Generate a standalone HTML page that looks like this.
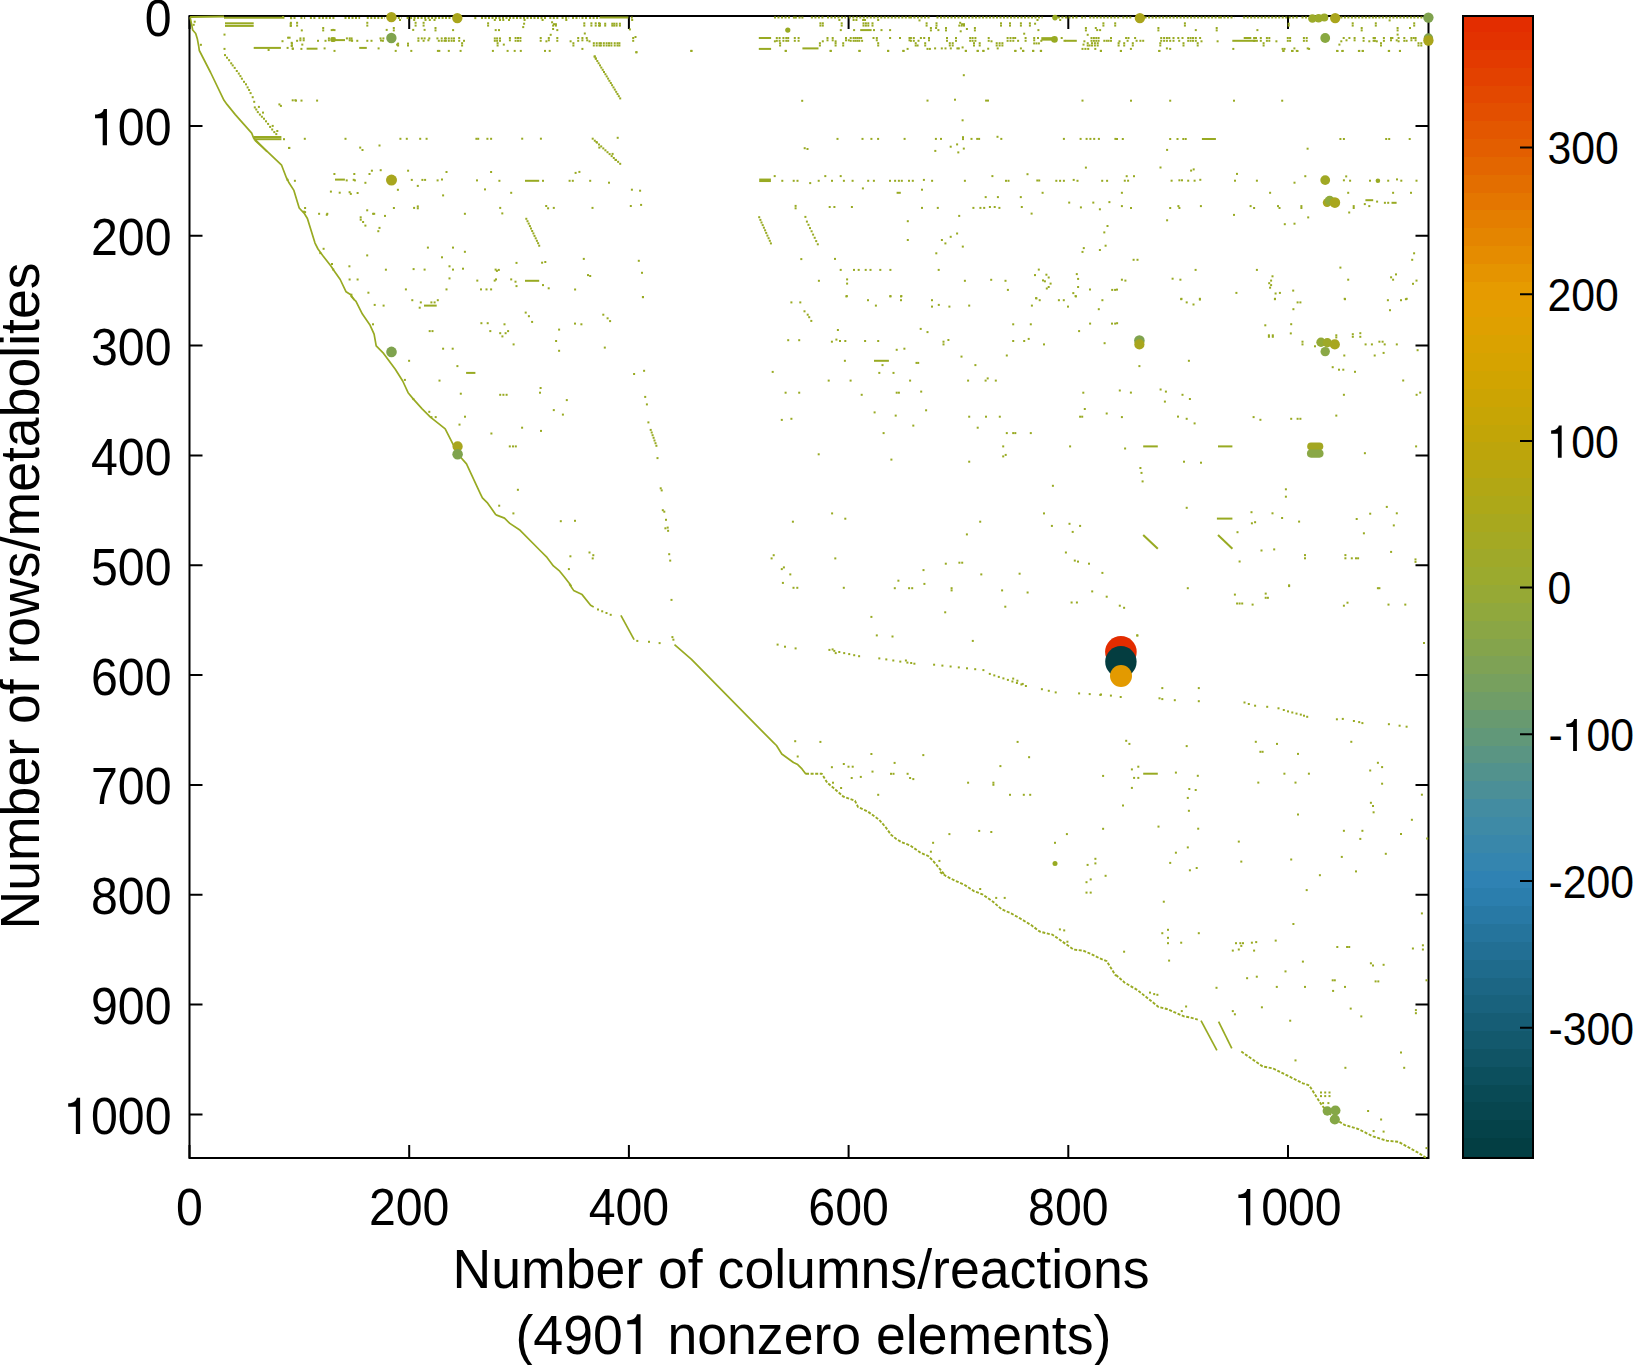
<!DOCTYPE html>
<html><head><meta charset="utf-8"><title>Sparse matrix</title>
<style>
html,body{margin:0;padding:0;background:#fff;width:1635px;height:1365px;overflow:hidden}
svg{position:absolute;left:0;top:0;font-family:"Liberation Sans",sans-serif}
</style></head><body>
<svg width="1635" height="1365" viewBox="0 0 1635 1365">
<defs><linearGradient id="pal" x1="0" y1="0" x2="0" y2="1"><stop offset="0.0000" stop-color="#e32c00"/><stop offset="0.0123" stop-color="#e32e00"/><stop offset="0.1173" stop-color="#e35f00"/><stop offset="0.1786" stop-color="#e47e00"/><stop offset="0.2443" stop-color="#e69d00"/><stop offset="0.3100" stop-color="#d4a400"/><stop offset="0.3722" stop-color="#c0a508"/><stop offset="0.4370" stop-color="#aaa81b"/><stop offset="0.5009" stop-color="#98aa32"/><stop offset="0.5639" stop-color="#80a352"/><stop offset="0.6296" stop-color="#629878"/><stop offset="0.6953" stop-color="#428ca2"/><stop offset="0.7583" stop-color="#2e82b4"/><stop offset="0.8222" stop-color="#216e92"/><stop offset="0.8862" stop-color="#155c72"/><stop offset="0.9492" stop-color="#084852"/><stop offset="1.0000" stop-color="#023c40"/></linearGradient></defs>
<rect x="1463" y="16" width="70" height="16" fill="#e32d00" shape-rendering="crispEdges"/><rect x="1463" y="32" width="70" height="18" fill="#e33200" shape-rendering="crispEdges"/><rect x="1463" y="50" width="70" height="18" fill="#e33a00" shape-rendering="crispEdges"/><rect x="1463" y="68" width="70" height="18" fill="#e34100" shape-rendering="crispEdges"/><rect x="1463" y="86" width="70" height="17" fill="#e34800" shape-rendering="crispEdges"/><rect x="1463" y="103" width="70" height="18" fill="#e34f00" shape-rendering="crispEdges"/><rect x="1463" y="121" width="70" height="18" fill="#e35700" shape-rendering="crispEdges"/><rect x="1463" y="139" width="70" height="18" fill="#e35e00" shape-rendering="crispEdges"/><rect x="1463" y="157" width="70" height="18" fill="#e36600" shape-rendering="crispEdges"/><rect x="1463" y="175" width="70" height="18" fill="#e36e00" shape-rendering="crispEdges"/><rect x="1463" y="193" width="70" height="17" fill="#e47600" shape-rendering="crispEdges"/><rect x="1463" y="210" width="70" height="18" fill="#e47e00" shape-rendering="crispEdges"/><rect x="1463" y="228" width="70" height="18" fill="#e48500" shape-rendering="crispEdges"/><rect x="1463" y="246" width="70" height="18" fill="#e58c00" shape-rendering="crispEdges"/><rect x="1463" y="264" width="70" height="18" fill="#e59400" shape-rendering="crispEdges"/><rect x="1463" y="282" width="70" height="18" fill="#e69b00" shape-rendering="crispEdges"/><rect x="1463" y="300" width="70" height="17" fill="#e39e00" shape-rendering="crispEdges"/><rect x="1463" y="317" width="70" height="18" fill="#dfa000" shape-rendering="crispEdges"/><rect x="1463" y="335" width="70" height="18" fill="#daa200" shape-rendering="crispEdges"/><rect x="1463" y="353" width="70" height="18" fill="#d6a300" shape-rendering="crispEdges"/><rect x="1463" y="371" width="70" height="18" fill="#d1a401" shape-rendering="crispEdges"/><rect x="1463" y="389" width="70" height="18" fill="#cca403" shape-rendering="crispEdges"/><rect x="1463" y="407" width="70" height="18" fill="#c7a505" shape-rendering="crispEdges"/><rect x="1463" y="425" width="70" height="17" fill="#c2a507" shape-rendering="crispEdges"/><rect x="1463" y="442" width="70" height="18" fill="#bda50b" shape-rendering="crispEdges"/><rect x="1463" y="460" width="70" height="18" fill="#b8a60f" shape-rendering="crispEdges"/><rect x="1463" y="478" width="70" height="18" fill="#b2a714" shape-rendering="crispEdges"/><rect x="1463" y="496" width="70" height="18" fill="#ada818" shape-rendering="crispEdges"/><rect x="1463" y="514" width="70" height="18" fill="#a8a81e" shape-rendering="crispEdges"/><rect x="1463" y="532" width="70" height="17" fill="#a4a923" shape-rendering="crispEdges"/><rect x="1463" y="549" width="70" height="18" fill="#9fa929" shape-rendering="crispEdges"/><rect x="1463" y="567" width="70" height="18" fill="#9baa2e" shape-rendering="crispEdges"/><rect x="1463" y="585" width="70" height="18" fill="#96a935" shape-rendering="crispEdges"/><rect x="1463" y="603" width="70" height="18" fill="#90a83d" shape-rendering="crispEdges"/><rect x="1463" y="621" width="70" height="18" fill="#8aa645" shape-rendering="crispEdges"/><rect x="1463" y="639" width="70" height="17" fill="#84a44c" shape-rendering="crispEdges"/><rect x="1463" y="656" width="70" height="18" fill="#7ea255" shape-rendering="crispEdges"/><rect x="1463" y="674" width="70" height="18" fill="#77a05e" shape-rendering="crispEdges"/><rect x="1463" y="692" width="70" height="18" fill="#709d67" shape-rendering="crispEdges"/><rect x="1463" y="710" width="70" height="18" fill="#689a70" shape-rendering="crispEdges"/><rect x="1463" y="728" width="70" height="18" fill="#619879" shape-rendering="crispEdges"/><rect x="1463" y="746" width="70" height="17" fill="#5a9583" shape-rendering="crispEdges"/><rect x="1463" y="763" width="70" height="18" fill="#52928d" shape-rendering="crispEdges"/><rect x="1463" y="781" width="70" height="18" fill="#4b8f97" shape-rendering="crispEdges"/><rect x="1463" y="799" width="70" height="18" fill="#438ca1" shape-rendering="crispEdges"/><rect x="1463" y="817" width="70" height="18" fill="#3e8aa6" shape-rendering="crispEdges"/><rect x="1463" y="835" width="70" height="18" fill="#3987aa" shape-rendering="crispEdges"/><rect x="1463" y="853" width="70" height="18" fill="#3485af" shape-rendering="crispEdges"/><rect x="1463" y="871" width="70" height="17" fill="#2f82b3" shape-rendering="crispEdges"/><rect x="1463" y="888" width="70" height="18" fill="#2b7ead" shape-rendering="crispEdges"/><rect x="1463" y="906" width="70" height="18" fill="#2879a5" shape-rendering="crispEdges"/><rect x="1463" y="924" width="70" height="18" fill="#25749c" shape-rendering="crispEdges"/><rect x="1463" y="942" width="70" height="18" fill="#226f94" shape-rendering="crispEdges"/><rect x="1463" y="960" width="70" height="18" fill="#1f6b8c" shape-rendering="crispEdges"/><rect x="1463" y="978" width="70" height="17" fill="#1c6684" shape-rendering="crispEdges"/><rect x="1463" y="995" width="70" height="18" fill="#19627d" shape-rendering="crispEdges"/><rect x="1463" y="1013" width="70" height="18" fill="#165d75" shape-rendering="crispEdges"/><rect x="1463" y="1031" width="70" height="18" fill="#13596d" shape-rendering="crispEdges"/><rect x="1463" y="1049" width="70" height="18" fill="#105465" shape-rendering="crispEdges"/><rect x="1463" y="1067" width="70" height="18" fill="#0c4f5d" shape-rendering="crispEdges"/><rect x="1463" y="1085" width="70" height="17" fill="#094a55" shape-rendering="crispEdges"/><rect x="1463" y="1102" width="70" height="18" fill="#07464f" shape-rendering="crispEdges"/><rect x="1463" y="1120" width="70" height="18" fill="#054249" shape-rendering="crispEdges"/><rect x="1463" y="1138" width="70" height="18" fill="#033e43" shape-rendering="crispEdges"/><rect x="1463" y="1156" width="70" height="2" fill="#023c40" shape-rendering="crispEdges"/><rect x="1463" y="16" width="70" height="1142" fill="none" stroke="#000" stroke-width="2"/>
<path d="M1520 147.5H1533M1520 294.2H1533M1520 440.9H1533M1520 587.6H1533M1520 734.3H1533M1520 881.0H1533M1520 1027.7H1533" stroke="#000" stroke-width="2"/>
<rect x="189.5" y="16" width="1239" height="1142" fill="none" stroke="#000" stroke-width="2"/>
<path d="M189.5 16.0H202.5M1415.5 16.0H1428.5M189.5 125.9H202.5M1415.5 125.9H1428.5M189.5 235.7H202.5M1415.5 235.7H1428.5M189.5 345.6H202.5M1415.5 345.6H1428.5M189.5 455.4H202.5M1415.5 455.4H1428.5M189.5 565.2H202.5M1415.5 565.2H1428.5M189.5 675.1H202.5M1415.5 675.1H1428.5M189.5 785.0H202.5M1415.5 785.0H1428.5M189.5 894.8H202.5M1415.5 894.8H1428.5M189.5 1004.6H202.5M1415.5 1004.6H1428.5M189.5 1114.5H202.5M1415.5 1114.5H1428.5M189.5 1158V1145M189.5 16V29M409.2 1158V1145M409.2 16V29M628.9 1158V1145M628.9 16V29M848.6 1158V1145M848.6 16V29M1068.3 1158V1145M1068.3 16V29M1288.0 1158V1145M1288.0 16V29" stroke="#000" stroke-width="2"/>
<g fill="#98aa22"><path d="M190.1 17.1L191.6 24.3L192.7 30.0L195.7 33.5L197.3 38.7L198.8 46.9L199.3 50.5L210.6 72.5L224.0 100.3L227.0 104.4L235.3 114.6L243.5 123.9L251.7 133.1L253.7 138.2L267.1 151.6" stroke="#98aa22" stroke-width="1.7" fill="none" stroke-linejoin="round"/><path d="M190.1 16.9L224.0 16.6" stroke="#98aa22" stroke-width="2" fill="none"/><path d="M224.0 17.7L284.5 17.7" stroke="#98aa22" stroke-width="2" fill="none"/><path d="M225.0 23.3L253.7 23.3" stroke="#98aa22" stroke-width="2" fill="none"/><path d="M225.0 25.9L253.7 25.9" stroke="#98aa22" stroke-width="2" fill="none"/><path d="M253.7 47.9L280.9 47.9" stroke="#98aa22" stroke-width="2" fill="none"/><path d="M253.7 137.0L281.4 137.0" stroke="#98aa22" stroke-width="2" fill="none"/><path d="M253.7 139.2L281.4 139.2" stroke="#98aa22" stroke-width="2" fill="none"/><rect x="193.7" y="20.7" width="2" height="2"/><rect x="192.7" y="23.8" width="2" height="2"/><rect x="199.9" y="43.8" width="2" height="2"/><rect x="223.5" y="33.6" width="2" height="2"/><rect x="223.5" y="47.9" width="2" height="2"/><rect x="281.5" y="40.2" width="2" height="2"/><rect x="287.1" y="36.7" width="2" height="2"/><rect x="288.6" y="36.7" width="2" height="2"/><rect x="289.7" y="22.8" width="2" height="2"/><rect x="289.7" y="24.9" width="2" height="2"/><rect x="290.7" y="41.8" width="2" height="2"/><rect x="290.7" y="44.9" width="2" height="2"/><rect x="286.6" y="46.9" width="2" height="2"/><rect x="291.7" y="47.4" width="2" height="2"/><rect x="267.6" y="49.0" width="2" height="2"/><rect x="224.0" y="54.1" width="2" height="2"/><rect x="226.0" y="56.7" width="2" height="2"/><rect x="228.1" y="59.2" width="2" height="2"/><rect x="230.2" y="62.3" width="2" height="2"/><rect x="231.7" y="64.4" width="2" height="2"/><rect x="233.7" y="66.9" width="2" height="2"/><rect x="235.8" y="70.0" width="2" height="2"/><rect x="237.8" y="72.6" width="2" height="2"/><rect x="239.4" y="75.1" width="2" height="2"/><rect x="240.9" y="77.7" width="2" height="2"/><rect x="243.0" y="80.8" width="2" height="2"/><rect x="245.0" y="83.3" width="2" height="2"/><rect x="246.6" y="86.4" width="2" height="2"/><rect x="248.1" y="89.0" width="2" height="2"/><rect x="249.6" y="92.1" width="2" height="2"/><rect x="251.7" y="96.2" width="2" height="2"/><rect x="253.2" y="100.8" width="2" height="2"/><rect x="253.8" y="106.4" width="2" height="2"/><rect x="255.3" y="108.5" width="2" height="2"/><rect x="256.8" y="111.1" width="2" height="2"/><rect x="258.9" y="113.6" width="2" height="2"/><rect x="260.9" y="115.7" width="2" height="2"/><rect x="263.0" y="117.7" width="2" height="2"/><rect x="265.0" y="120.3" width="2" height="2"/><rect x="267.1" y="122.9" width="2" height="2"/><rect x="269.1" y="125.9" width="2" height="2"/><rect x="271.2" y="128.5" width="2" height="2"/><rect x="273.3" y="131.1" width="2" height="2"/><rect x="275.3" y="133.1" width="2" height="2"/><rect x="257.9" y="105.9" width="2" height="2"/><rect x="262.0" y="111.6" width="2" height="2"/><rect x="271.7" y="124.9" width="2" height="2"/><rect x="276.3" y="130.0" width="2" height="2"/><rect x="283.0" y="138.2" width="2" height="2"/><rect x="278.4" y="103.4" width="2" height="2"/><rect x="279.9" y="104.9" width="2" height="2"/><rect x="291.7" y="99.3" width="2" height="2"/><rect x="294.3" y="99.3" width="2" height="2"/><rect x="288.1" y="147.0" width="2" height="2"/><rect x="282.0" y="16.1" width="2" height="2"/><rect x="290.2" y="17.2" width="2" height="2"/><path d="M254.7 140.0L268.2 152.3L281.6 165.2L286.3 177.5L288.7 182.2L293.9 190.4L299.2 208.0L304.5 213.8L307.4 218.5L315.0 243.1L318.0 249.0L322.7 255.4L330.9 266.0L334.4 271.3L340.2 279.5L346.1 291.8L350.8 294.7L354.3 300.0" stroke="#98aa22" stroke-width="1.7" fill="none" stroke-linejoin="round"/><path d="M335.0 179.6L344.9 179.6" stroke="#98aa22" stroke-width="2" fill="none"/><rect x="288.3" y="146.9" width="2" height="2"/><rect x="359.2" y="146.6" width="2" height="2"/><rect x="361.5" y="149.0" width="2" height="2"/><rect x="378.5" y="144.5" width="2" height="2"/><rect x="333.4" y="173.0" width="2" height="2"/><rect x="353.3" y="173.0" width="2" height="2"/><rect x="368.5" y="173.0" width="2" height="2"/><rect x="370.9" y="169.7" width="2" height="2"/><rect x="379.7" y="169.2" width="2" height="2"/><rect x="293.9" y="179.8" width="2" height="2"/><rect x="364.4" y="181.8" width="2" height="2"/><rect x="396.9" y="188.8" width="2" height="2"/><rect x="329.9" y="190.6" width="2" height="2"/><rect x="338.7" y="191.7" width="2" height="2"/><rect x="348.6" y="191.2" width="2" height="2"/><rect x="349.8" y="192.9" width="2" height="2"/><rect x="356.6" y="192.0" width="2" height="2"/><rect x="304.1" y="207.0" width="2" height="2"/><rect x="304.1" y="211.1" width="2" height="2"/><rect x="318.1" y="212.8" width="2" height="2"/><rect x="326.3" y="212.8" width="2" height="2"/><rect x="325.8" y="213.8" width="2" height="2"/><rect x="366.2" y="209.3" width="2" height="2"/><rect x="372.1" y="212.8" width="2" height="2"/><rect x="373.2" y="212.8" width="2" height="2"/><rect x="384.0" y="214.9" width="2" height="2"/><rect x="392.9" y="207.0" width="2" height="2"/><rect x="359.7" y="216.3" width="2" height="2"/><rect x="359.7" y="218.7" width="2" height="2"/><rect x="362.1" y="221.0" width="2" height="2"/><rect x="364.4" y="224.6" width="2" height="2"/><rect x="378.5" y="226.9" width="2" height="2"/><rect x="377.3" y="230.2" width="2" height="2"/><rect x="322.6" y="247.8" width="2" height="2"/><rect x="319.3" y="252.1" width="2" height="2"/><rect x="366.2" y="254.4" width="2" height="2"/><rect x="331.0" y="263.0" width="2" height="2"/><rect x="332.2" y="268.5" width="2" height="2"/><rect x="348.4" y="265.3" width="2" height="2"/><rect x="384.9" y="268.7" width="2" height="2"/><rect x="348.6" y="278.5" width="2" height="2"/><rect x="356.6" y="278.5" width="2" height="2"/><rect x="367.4" y="291.7" width="2" height="2"/><rect x="350.4" y="293.7" width="2" height="2"/><rect x="345.7" y="179.4" width="2" height="2"/><rect x="352.7" y="178.8" width="2" height="2"/><rect x="353.9" y="179.4" width="2" height="2"/><rect x="286.5" y="178.8" width="2" height="2"/><rect x="302.9" y="210.7" width="2" height="2"/><rect x="295.0" y="99.6" width="2" height="2"/><rect x="300.5" y="99.6" width="2" height="2"/><rect x="316.1" y="99.6" width="2" height="2"/><rect x="303.8" y="137.8" width="2" height="2"/><rect x="344.5" y="137.8" width="2" height="2"/><rect x="399.4" y="137.8" width="2" height="2"/><rect x="405.8" y="137.8" width="2" height="2"/><rect x="419.2" y="137.8" width="2" height="2"/><rect x="425.6" y="137.8" width="2" height="2"/><rect x="475.4" y="137.8" width="2" height="2"/><rect x="477.2" y="137.8" width="2" height="2"/><rect x="486.4" y="137.8" width="2" height="2"/><rect x="490.1" y="137.8" width="2" height="2"/><rect x="407.1" y="169.7" width="2" height="2"/><rect x="445.5" y="171.0" width="2" height="2"/><rect x="490.1" y="171.0" width="2" height="2"/><rect x="410.8" y="178.9" width="2" height="2"/><rect x="421.4" y="178.9" width="2" height="2"/><rect x="424.1" y="178.9" width="2" height="2"/><rect x="436.6" y="179.4" width="2" height="2"/><rect x="441.0" y="178.5" width="2" height="2"/><rect x="476.0" y="179.4" width="2" height="2"/><rect x="416.8" y="184.9" width="2" height="2"/><rect x="484.0" y="188.4" width="2" height="2"/><rect x="442.1" y="194.4" width="2" height="2"/><rect x="413.1" y="206.9" width="2" height="2"/><rect x="416.8" y="205.4" width="2" height="2"/><rect x="416.8" y="207.3" width="2" height="2"/><rect x="463.9" y="212.8" width="2" height="2"/><rect x="426.9" y="246.6" width="2" height="2"/><rect x="452.0" y="246.6" width="2" height="2"/><rect x="463.9" y="250.8" width="2" height="2"/><rect x="441.0" y="256.3" width="2" height="2"/><rect x="448.5" y="265.3" width="2" height="2"/><rect x="452.0" y="268.6" width="2" height="2"/><rect x="462.0" y="267.7" width="2" height="2"/><rect x="412.6" y="268.1" width="2" height="2"/><rect x="423.6" y="268.6" width="2" height="2"/><rect x="476.3" y="279.6" width="2" height="2"/><rect x="448.5" y="277.4" width="2" height="2"/><rect x="493.7" y="279.6" width="2" height="2"/><rect x="480.0" y="288.4" width="2" height="2"/><rect x="485.5" y="288.4" width="2" height="2"/><rect x="490.1" y="288.4" width="2" height="2"/><rect x="445.5" y="288.4" width="2" height="2"/><rect x="404.9" y="288.4" width="2" height="2"/><rect x="494.6" y="268.6" width="2" height="2"/><rect x="593.6" y="55.6" width="2" height="2"/><rect x="594.9" y="57.8" width="2" height="2"/><rect x="596.3" y="60.0" width="2" height="2"/><rect x="597.6" y="62.2" width="2" height="2"/><rect x="599.0" y="64.4" width="2" height="2"/><rect x="600.3" y="66.6" width="2" height="2"/><rect x="601.7" y="68.8" width="2" height="2"/><rect x="603.0" y="71.0" width="2" height="2"/><rect x="604.4" y="73.2" width="2" height="2"/><rect x="605.7" y="75.4" width="2" height="2"/><rect x="607.1" y="77.6" width="2" height="2"/><rect x="608.4" y="79.8" width="2" height="2"/><rect x="609.8" y="82.0" width="2" height="2"/><rect x="611.1" y="84.2" width="2" height="2"/><rect x="612.5" y="86.4" width="2" height="2"/><rect x="613.8" y="88.6" width="2" height="2"/><rect x="615.2" y="90.8" width="2" height="2"/><rect x="616.5" y="93.0" width="2" height="2"/><rect x="617.8" y="95.2" width="2" height="2"/><rect x="619.2" y="97.4" width="2" height="2"/><rect x="591.7" y="137.7" width="2" height="2"/><rect x="593.8" y="139.7" width="2" height="2"/><rect x="595.9" y="141.6" width="2" height="2"/><rect x="598.0" y="143.5" width="2" height="2"/><rect x="600.2" y="145.4" width="2" height="2"/><rect x="602.3" y="147.4" width="2" height="2"/><rect x="604.4" y="149.3" width="2" height="2"/><rect x="606.5" y="151.2" width="2" height="2"/><rect x="608.6" y="153.1" width="2" height="2"/><rect x="610.7" y="155.1" width="2" height="2"/><rect x="612.8" y="157.0" width="2" height="2"/><rect x="615.0" y="158.9" width="2" height="2"/><rect x="617.1" y="160.8" width="2" height="2"/><rect x="619.2" y="162.8" width="2" height="2"/><rect x="525.3" y="217.8" width="2" height="2"/><rect x="526.5" y="220.2" width="2" height="2"/><rect x="527.7" y="222.6" width="2" height="2"/><rect x="528.9" y="225.1" width="2" height="2"/><rect x="530.0" y="227.5" width="2" height="2"/><rect x="531.2" y="230.0" width="2" height="2"/><rect x="532.4" y="232.4" width="2" height="2"/><rect x="533.5" y="234.9" width="2" height="2"/><rect x="534.7" y="237.3" width="2" height="2"/><rect x="535.9" y="239.8" width="2" height="2"/><rect x="537.1" y="242.2" width="2" height="2"/><rect x="538.2" y="244.7" width="2" height="2"/><rect x="758.2" y="216.2" width="2" height="2"/><rect x="759.4" y="218.9" width="2" height="2"/><rect x="760.5" y="221.5" width="2" height="2"/><rect x="761.7" y="224.1" width="2" height="2"/><rect x="762.9" y="226.7" width="2" height="2"/><rect x="764.1" y="229.3" width="2" height="2"/><rect x="765.2" y="231.9" width="2" height="2"/><rect x="766.4" y="234.6" width="2" height="2"/><rect x="767.6" y="237.2" width="2" height="2"/><rect x="768.8" y="239.8" width="2" height="2"/><rect x="769.9" y="242.4" width="2" height="2"/><rect x="595.5" y="141.0" width="2" height="2"/><rect x="598.3" y="146.6" width="2" height="2"/><rect x="611.6" y="152.9" width="2" height="2"/><rect x="614.5" y="159.0" width="2" height="2"/><rect x="635.3" y="51.3" width="2" height="2"/><rect x="690.3" y="49.9" width="2" height="2"/><rect x="784.7" y="49.9" width="2" height="2"/><rect x="801.2" y="99.8" width="2" height="2"/><rect x="521.2" y="137.7" width="2" height="2"/><rect x="539.9" y="137.7" width="2" height="2"/><rect x="616.7" y="136.8" width="2" height="2"/><rect x="803.7" y="147.2" width="2" height="2"/><rect x="574.6" y="171.9" width="2" height="2"/><rect x="578.4" y="170.9" width="2" height="2"/><rect x="498.4" y="179.8" width="2" height="2"/><rect x="542.0" y="179.8" width="2" height="2"/><rect x="568.6" y="179.8" width="2" height="2"/><rect x="571.8" y="179.8" width="2" height="2"/><rect x="589.2" y="179.8" width="2" height="2"/><rect x="608.0" y="181.7" width="2" height="2"/><rect x="773.7" y="175.1" width="2" height="2"/><rect x="781.3" y="179.8" width="2" height="2"/><rect x="792.7" y="179.8" width="2" height="2"/><rect x="796.5" y="179.8" width="2" height="2"/><rect x="510.2" y="191.8" width="2" height="2"/><rect x="630.9" y="188.7" width="2" height="2"/><rect x="639.1" y="189.7" width="2" height="2"/><rect x="499.2" y="206.9" width="2" height="2"/><rect x="501.3" y="212.4" width="2" height="2"/><rect x="545.2" y="205.0" width="2" height="2"/><rect x="547.1" y="207.3" width="2" height="2"/><rect x="552.8" y="206.9" width="2" height="2"/><rect x="591.5" y="206.9" width="2" height="2"/><rect x="629.8" y="205.0" width="2" height="2"/><rect x="640.1" y="203.9" width="2" height="2"/><rect x="794.6" y="204.9" width="2" height="2"/><rect x="794.6" y="207.3" width="2" height="2"/><rect x="804.4" y="215.9" width="2" height="2"/><rect x="582.8" y="257.9" width="2" height="2"/><rect x="637.8" y="259.8" width="2" height="2"/><rect x="515.5" y="261.9" width="2" height="2"/><rect x="541.1" y="261.7" width="2" height="2"/><rect x="544.3" y="261.0" width="2" height="2"/><rect x="497.8" y="268.9" width="2" height="2"/><rect x="495.9" y="269.9" width="2" height="2"/><rect x="495.0" y="278.4" width="2" height="2"/><rect x="510.2" y="278.4" width="2" height="2"/><rect x="514.5" y="280.7" width="2" height="2"/><rect x="515.5" y="285.1" width="2" height="2"/><rect x="542.0" y="284.1" width="2" height="2"/><rect x="547.7" y="287.3" width="2" height="2"/><rect x="574.1" y="288.5" width="2" height="2"/><rect x="587.0" y="274.1" width="2" height="2"/><rect x="589.2" y="275.0" width="2" height="2"/><rect x="641.0" y="271.8" width="2" height="2"/><rect x="641.9" y="296.1" width="2" height="2"/><rect x="800.3" y="258.1" width="2" height="2"/><path d="M525.0 180.8L539.2 180.8" stroke="#98aa22" stroke-width="2" fill="none"/><path d="M525.0 280.8L539.2 280.8" stroke="#98aa22" stroke-width="2" fill="none"/><path d="M759.2 180.3L770.9 180.3" stroke="#98aa22" stroke-width="3.5" fill="none"/><rect x="829.6" y="49.9" width="2" height="2"/><rect x="858.7" y="49.9" width="2" height="2"/><rect x="887.1" y="49.9" width="2" height="2"/><rect x="902.6" y="49.9" width="2" height="2"/><rect x="964.8" y="49.9" width="2" height="2"/><rect x="976.6" y="49.9" width="2" height="2"/><rect x="982.3" y="49.9" width="2" height="2"/><rect x="1014.5" y="49.9" width="2" height="2"/><rect x="1022.1" y="49.9" width="2" height="2"/><rect x="1032.2" y="49.9" width="2" height="2"/><rect x="1040.1" y="49.9" width="2" height="2"/><rect x="1099.8" y="49.9" width="2" height="2"/><rect x="962.8" y="74.2" width="2" height="2"/><rect x="926.5" y="99.6" width="2" height="2"/><rect x="954.0" y="98.7" width="2" height="2"/><rect x="985.1" y="99.6" width="2" height="2"/><rect x="987.0" y="99.6" width="2" height="2"/><rect x="1081.5" y="99.6" width="2" height="2"/><rect x="961.6" y="119.3" width="2" height="2"/><rect x="836.5" y="137.9" width="2" height="2"/><rect x="861.5" y="137.9" width="2" height="2"/><rect x="870.4" y="137.9" width="2" height="2"/><rect x="877.1" y="137.9" width="2" height="2"/><rect x="903.6" y="137.9" width="2" height="2"/><rect x="934.9" y="137.9" width="2" height="2"/><rect x="940.0" y="137.9" width="2" height="2"/><rect x="962.0" y="136.2" width="2" height="2"/><rect x="962.0" y="138.1" width="2" height="2"/><rect x="970.5" y="137.9" width="2" height="2"/><rect x="976.2" y="137.9" width="2" height="2"/><rect x="978.1" y="137.9" width="2" height="2"/><rect x="996.5" y="135.8" width="2" height="2"/><rect x="1000.3" y="137.9" width="2" height="2"/><rect x="1062.9" y="137.9" width="2" height="2"/><rect x="1079.6" y="137.9" width="2" height="2"/><rect x="1085.6" y="137.9" width="2" height="2"/><rect x="1089.4" y="137.9" width="2" height="2"/><rect x="1093.2" y="137.9" width="2" height="2"/><rect x="1097.9" y="137.9" width="2" height="2"/><rect x="1114.4" y="137.9" width="2" height="2"/><rect x="806.5" y="148.0" width="2" height="2"/><rect x="949.7" y="145.7" width="2" height="2"/><rect x="956.1" y="143.4" width="2" height="2"/><rect x="962.8" y="147.6" width="2" height="2"/><rect x="957.3" y="151.4" width="2" height="2"/><rect x="934.3" y="149.9" width="2" height="2"/><rect x="1084.9" y="166.6" width="2" height="2"/><rect x="809.2" y="182.1" width="2" height="2"/><rect x="817.7" y="179.8" width="2" height="2"/><rect x="824.3" y="175.1" width="2" height="2"/><rect x="831.0" y="179.8" width="2" height="2"/><rect x="839.7" y="175.1" width="2" height="2"/><rect x="842.9" y="179.8" width="2" height="2"/><rect x="851.6" y="179.8" width="2" height="2"/><rect x="867.2" y="179.8" width="2" height="2"/><rect x="872.9" y="179.8" width="2" height="2"/><rect x="889.0" y="179.8" width="2" height="2"/><rect x="894.1" y="179.8" width="2" height="2"/><rect x="897.9" y="179.8" width="2" height="2"/><rect x="900.8" y="179.8" width="2" height="2"/><rect x="908.0" y="179.8" width="2" height="2"/><rect x="911.8" y="179.8" width="2" height="2"/><rect x="922.9" y="178.9" width="2" height="2"/><rect x="931.1" y="179.8" width="2" height="2"/><rect x="963.9" y="179.8" width="2" height="2"/><rect x="991.4" y="175.1" width="2" height="2"/><rect x="1005.0" y="179.8" width="2" height="2"/><rect x="1007.5" y="179.8" width="2" height="2"/><rect x="1026.5" y="173.2" width="2" height="2"/><rect x="1036.3" y="179.5" width="2" height="2"/><rect x="1038.2" y="179.5" width="2" height="2"/><rect x="1055.3" y="179.8" width="2" height="2"/><rect x="1059.1" y="179.8" width="2" height="2"/><rect x="1062.9" y="179.8" width="2" height="2"/><rect x="1072.7" y="178.9" width="2" height="2"/><rect x="1076.5" y="179.8" width="2" height="2"/><rect x="1101.2" y="179.8" width="2" height="2"/><rect x="1106.1" y="179.8" width="2" height="2"/><rect x="861.9" y="187.4" width="2" height="2"/><rect x="921.0" y="188.7" width="2" height="2"/><rect x="1041.6" y="191.8" width="2" height="2"/><path d="M896.6 192.8L900.8 192.8" stroke="#98aa22" stroke-width="2" fill="none"/><rect x="984.7" y="196.1" width="2" height="2"/><rect x="996.9" y="196.1" width="2" height="2"/><rect x="1019.8" y="196.1" width="2" height="2"/><rect x="1068.2" y="201.6" width="2" height="2"/><rect x="1092.3" y="201.6" width="2" height="2"/><rect x="1108.4" y="201.1" width="2" height="2"/><rect x="1079.9" y="206.4" width="2" height="2"/><rect x="1098.9" y="208.3" width="2" height="2"/><rect x="828.7" y="206.0" width="2" height="2"/><rect x="833.4" y="206.0" width="2" height="2"/><rect x="850.9" y="206.0" width="2" height="2"/><rect x="921.0" y="206.9" width="2" height="2"/><rect x="936.8" y="206.9" width="2" height="2"/><rect x="972.4" y="206.9" width="2" height="2"/><rect x="979.4" y="206.9" width="2" height="2"/><rect x="983.2" y="206.9" width="2" height="2"/><rect x="988.9" y="206.0" width="2" height="2"/><rect x="993.7" y="206.0" width="2" height="2"/><rect x="998.4" y="206.9" width="2" height="2"/><rect x="1020.8" y="206.0" width="2" height="2"/><rect x="1030.6" y="212.6" width="2" height="2"/><rect x="958.2" y="214.9" width="2" height="2"/><rect x="906.8" y="220.2" width="2" height="2"/><rect x="906.8" y="239.0" width="2" height="2"/><rect x="956.1" y="232.5" width="2" height="2"/><rect x="949.7" y="235.8" width="2" height="2"/><rect x="940.9" y="239.0" width="2" height="2"/><rect x="944.4" y="242.4" width="2" height="2"/><rect x="961.8" y="245.6" width="2" height="2"/><rect x="935.3" y="252.3" width="2" height="2"/><rect x="1106.5" y="225.0" width="2" height="2"/><rect x="1103.3" y="231.4" width="2" height="2"/><rect x="1104.6" y="244.7" width="2" height="2"/><rect x="1082.8" y="247.1" width="2" height="2"/><rect x="1081.5" y="250.9" width="2" height="2"/><rect x="1098.9" y="249.0" width="2" height="2"/><rect x="834.0" y="257.9" width="2" height="2"/><rect x="805.9" y="220.6" width="2" height="2"/><rect x="807.5" y="223.8" width="2" height="2"/><rect x="809.0" y="227.1" width="2" height="2"/><rect x="810.6" y="230.3" width="2" height="2"/><rect x="812.1" y="233.6" width="2" height="2"/><rect x="813.7" y="236.8" width="2" height="2"/><rect x="815.2" y="240.1" width="2" height="2"/><rect x="816.8" y="243.3" width="2" height="2"/><rect x="839.7" y="268.9" width="2" height="2"/><rect x="853.0" y="268.9" width="2" height="2"/><rect x="857.7" y="268.9" width="2" height="2"/><rect x="864.7" y="268.9" width="2" height="2"/><rect x="869.5" y="268.9" width="2" height="2"/><rect x="879.3" y="268.9" width="2" height="2"/><rect x="889.4" y="268.9" width="2" height="2"/><rect x="937.7" y="268.9" width="2" height="2"/><rect x="1037.8" y="268.6" width="2" height="2"/><rect x="817.9" y="279.8" width="2" height="2"/><rect x="846.1" y="278.4" width="2" height="2"/><rect x="846.1" y="282.6" width="2" height="2"/><rect x="963.9" y="279.8" width="2" height="2"/><rect x="990.2" y="278.8" width="2" height="2"/><rect x="1004.5" y="279.8" width="2" height="2"/><rect x="1006.9" y="288.9" width="2" height="2"/><rect x="1034.0" y="274.1" width="2" height="2"/><rect x="1045.4" y="273.7" width="2" height="2"/><rect x="1047.7" y="276.5" width="2" height="2"/><rect x="1042.0" y="279.4" width="2" height="2"/><rect x="1043.9" y="280.3" width="2" height="2"/><rect x="1049.6" y="282.6" width="2" height="2"/><rect x="1047.7" y="286.0" width="2" height="2"/><rect x="1045.8" y="287.5" width="2" height="2"/><rect x="1075.8" y="273.1" width="2" height="2"/><rect x="1077.1" y="277.9" width="2" height="2"/><rect x="1077.1" y="286.0" width="2" height="2"/><rect x="1089.0" y="288.5" width="2" height="2"/><rect x="1072.3" y="292.1" width="2" height="2"/><rect x="1074.6" y="295.1" width="2" height="2"/><rect x="1035.4" y="297.4" width="2" height="2"/><rect x="1111.2" y="288.9" width="2" height="2"/><rect x="1114.1" y="288.9" width="2" height="2"/><rect x="845.8" y="295.1" width="2" height="2"/><rect x="889.4" y="295.1" width="2" height="2"/><rect x="900.4" y="295.1" width="2" height="2"/><rect x="1119.9" y="50.0" width="2" height="2"/><rect x="1158.3" y="50.0" width="2" height="2"/><rect x="1282.4" y="50.0" width="2" height="2"/><rect x="1291.6" y="50.0" width="2" height="2"/><rect x="1296.5" y="50.0" width="2" height="2"/><rect x="1336.5" y="50.0" width="2" height="2"/><rect x="1341.3" y="50.0" width="2" height="2"/><rect x="1357.9" y="50.0" width="2" height="2"/><rect x="1361.8" y="50.0" width="2" height="2"/><rect x="1387.8" y="50.0" width="2" height="2"/><rect x="1398.9" y="50.0" width="2" height="2"/><rect x="1130.0" y="99.7" width="2" height="2"/><rect x="1169.2" y="99.7" width="2" height="2"/><rect x="1233.0" y="99.7" width="2" height="2"/><rect x="1281.2" y="99.7" width="2" height="2"/><rect x="1116.0" y="138.0" width="2" height="2"/><rect x="1121.8" y="138.0" width="2" height="2"/><rect x="1169.2" y="138.0" width="2" height="2"/><rect x="1176.5" y="138.0" width="2" height="2"/><rect x="1182.3" y="138.0" width="2" height="2"/><rect x="1184.7" y="138.0" width="2" height="2"/><rect x="1339.4" y="138.0" width="2" height="2"/><rect x="1342.9" y="138.0" width="2" height="2"/><rect x="1385.2" y="138.0" width="2" height="2"/><rect x="1388.2" y="138.0" width="2" height="2"/><rect x="1408.7" y="138.0" width="2" height="2"/><rect x="1166.1" y="148.9" width="2" height="2"/><rect x="1306.6" y="147.7" width="2" height="2"/><path d="M1201.9 139.0L1215.9 139.0" stroke="#98aa22" stroke-width="2" fill="none"/><rect x="1159.5" y="166.5" width="2" height="2"/><rect x="1190.1" y="169.6" width="2" height="2"/><rect x="1192.7" y="168.4" width="2" height="2"/><rect x="1236.0" y="172.9" width="2" height="2"/><rect x="1304.3" y="175.2" width="2" height="2"/><rect x="1125.7" y="175.2" width="2" height="2"/><rect x="1133.0" y="175.2" width="2" height="2"/><rect x="1123.8" y="179.7" width="2" height="2"/><rect x="1127.1" y="179.7" width="2" height="2"/><rect x="1170.6" y="179.7" width="2" height="2"/><rect x="1178.4" y="179.3" width="2" height="2"/><rect x="1181.0" y="179.3" width="2" height="2"/><rect x="1187.2" y="179.7" width="2" height="2"/><rect x="1193.6" y="179.7" width="2" height="2"/><rect x="1199.3" y="178.8" width="2" height="2"/><rect x="1234.0" y="179.7" width="2" height="2"/><rect x="1255.9" y="179.7" width="2" height="2"/><rect x="1293.5" y="181.7" width="2" height="2"/><rect x="1342.9" y="179.3" width="2" height="2"/><rect x="1345.2" y="175.4" width="2" height="2"/><rect x="1349.1" y="179.7" width="2" height="2"/><rect x="1369.0" y="179.7" width="2" height="2"/><rect x="1387.2" y="179.7" width="2" height="2"/><rect x="1396.0" y="178.4" width="2" height="2"/><rect x="1400.3" y="179.7" width="2" height="2"/><rect x="1415.5" y="179.7" width="2" height="2"/><rect x="1120.9" y="191.8" width="2" height="2"/><rect x="1269.1" y="191.8" width="2" height="2"/><rect x="1347.2" y="191.8" width="2" height="2"/><rect x="1392.1" y="191.8" width="2" height="2"/><rect x="1410.0" y="191.8" width="2" height="2"/><rect x="1120.9" y="205.1" width="2" height="2"/><rect x="1130.0" y="207.0" width="2" height="2"/><rect x="1169.2" y="207.0" width="2" height="2"/><rect x="1177.4" y="205.1" width="2" height="2"/><rect x="1178.4" y="207.0" width="2" height="2"/><rect x="1199.9" y="205.1" width="2" height="2"/><rect x="1249.6" y="205.1" width="2" height="2"/><rect x="1253.1" y="207.0" width="2" height="2"/><rect x="1277.0" y="205.1" width="2" height="2"/><rect x="1278.5" y="207.0" width="2" height="2"/><rect x="1300.4" y="205.1" width="2" height="2"/><rect x="1300.4" y="207.0" width="2" height="2"/><rect x="1352.7" y="205.1" width="2" height="2"/><rect x="1352.7" y="207.0" width="2" height="2"/><rect x="1363.8" y="203.1" width="2" height="2"/><rect x="1368.3" y="205.1" width="2" height="2"/><rect x="1376.1" y="200.6" width="2" height="2"/><rect x="1383.9" y="201.8" width="2" height="2"/><rect x="1387.2" y="201.8" width="2" height="2"/><rect x="1348.2" y="211.5" width="2" height="2"/><rect x="1233.0" y="213.9" width="2" height="2"/><rect x="1166.1" y="219.3" width="2" height="2"/><rect x="1307.2" y="216.4" width="2" height="2"/><rect x="1283.8" y="223.2" width="2" height="2"/><rect x="1293.5" y="222.7" width="2" height="2"/><path d="M1365.4 200.2L1373.2 200.2" stroke="#98aa22" stroke-width="2" fill="none"/><path d="M1391.5 202.8L1396.6 202.8" stroke="#98aa22" stroke-width="2" fill="none"/><rect x="1132.6" y="258.8" width="2" height="2"/><rect x="1136.5" y="258.8" width="2" height="2"/><rect x="1194.6" y="268.9" width="2" height="2"/><rect x="1255.9" y="268.9" width="2" height="2"/><rect x="1339.4" y="266.6" width="2" height="2"/><rect x="1413.1" y="252.3" width="2" height="2"/><rect x="1411.2" y="258.8" width="2" height="2"/><rect x="1120.9" y="278.7" width="2" height="2"/><rect x="1124.4" y="279.6" width="2" height="2"/><rect x="1171.6" y="277.7" width="2" height="2"/><rect x="1179.4" y="278.7" width="2" height="2"/><rect x="1271.5" y="275.3" width="2" height="2"/><rect x="1270.1" y="279.6" width="2" height="2"/><rect x="1268.2" y="282.2" width="2" height="2"/><rect x="1270.1" y="284.1" width="2" height="2"/><rect x="1269.1" y="286.7" width="2" height="2"/><rect x="1292.2" y="289.6" width="2" height="2"/><rect x="1235.4" y="291.9" width="2" height="2"/><rect x="1274.6" y="292.5" width="2" height="2"/><rect x="1278.9" y="291.9" width="2" height="2"/><rect x="1347.2" y="278.7" width="2" height="2"/><rect x="1390.1" y="276.3" width="2" height="2"/><rect x="1392.1" y="278.7" width="2" height="2"/><rect x="1395.0" y="273.4" width="2" height="2"/><rect x="1412.0" y="282.8" width="2" height="2"/><rect x="1415.5" y="279.6" width="2" height="2"/><rect x="1116.0" y="288.6" width="2" height="2"/><rect x="1180.4" y="297.8" width="2" height="2"/><rect x="1198.9" y="297.8" width="2" height="2"/><rect x="1274.0" y="297.8" width="2" height="2"/><rect x="1343.7" y="297.8" width="2" height="2"/><rect x="1405.7" y="297.8" width="2" height="2"/><path d="M350.7 296.0L356.0 301.3L362.4 314.1L369.8 324.7L374.1 334.2L376.2 345.9L383.6 353.4L395.3 369.3L402.7 381.0L408.1 392.7L413.4 399.1L421.9 408.6L430.4 417.1L439.9 424.6L445.2 428.8L452.7 443.7L458.0 454.3L466.5 463.9L480.3 493.6L482.4 497.9L487.7 503.2L496.0 514.9" stroke="#98aa22" stroke-width="1.7" fill="none" stroke-linejoin="round"/><rect x="373.7" y="303.9" width="2" height="2"/><rect x="382.6" y="304.6" width="2" height="2"/><rect x="411.3" y="299.2" width="2" height="2"/><rect x="419.8" y="301.4" width="2" height="2"/><rect x="418.7" y="306.7" width="2" height="2"/><rect x="430.4" y="301.4" width="2" height="2"/><rect x="433.6" y="301.4" width="2" height="2"/><rect x="436.8" y="299.2" width="2" height="2"/><rect x="372.0" y="323.3" width="2" height="2"/><rect x="480.4" y="322.2" width="2" height="2"/><rect x="486.7" y="322.2" width="2" height="2"/><rect x="428.7" y="330.1" width="2" height="2"/><rect x="431.5" y="330.1" width="2" height="2"/><rect x="489.3" y="330.1" width="2" height="2"/><rect x="442.1" y="347.7" width="2" height="2"/><rect x="451.7" y="347.7" width="2" height="2"/><rect x="408.1" y="359.8" width="2" height="2"/><rect x="456.4" y="365.1" width="2" height="2"/><rect x="438.5" y="379.6" width="2" height="2"/><rect x="459.8" y="392.7" width="2" height="2"/><rect x="428.3" y="410.8" width="2" height="2"/><rect x="430.4" y="416.1" width="2" height="2"/><rect x="434.7" y="416.1" width="2" height="2"/><rect x="464.0" y="415.7" width="2" height="2"/><rect x="458.5" y="423.6" width="2" height="2"/><rect x="490.4" y="432.5" width="2" height="2"/><rect x="403.9" y="378.9" width="2" height="2"/><rect x="412.4" y="398.1" width="2" height="2"/><path d="M424.0 305.6L436.7 305.6" stroke="#98aa22" stroke-width="2" fill="none"/><path d="M466.1 372.9L475.4 372.9" stroke="#98aa22" stroke-width="2" fill="none"/><path d="M496.0 514.9L504.5 518.1L509.8 523.4L519.4 529.7L540.6 551.0L547.0 557.4L553.4 565.9L559.7 571.2L564.0 576.5L571.4 586.1" stroke="#98aa22" stroke-width="1.7" fill="none" stroke-linejoin="round"/><rect x="642.0" y="296.1" width="2" height="2"/><rect x="790.4" y="301.4" width="2" height="2"/><rect x="799.3" y="301.4" width="2" height="2"/><rect x="803.5" y="310.3" width="2" height="2"/><rect x="524.7" y="311.6" width="2" height="2"/><rect x="527.9" y="315.2" width="2" height="2"/><rect x="531.1" y="320.9" width="2" height="2"/><rect x="602.3" y="313.7" width="2" height="2"/><rect x="606.6" y="317.3" width="2" height="2"/><rect x="609.1" y="320.1" width="2" height="2"/><rect x="503.5" y="323.3" width="2" height="2"/><rect x="574.0" y="322.6" width="2" height="2"/><rect x="580.4" y="323.3" width="2" height="2"/><rect x="558.1" y="328.6" width="2" height="2"/><rect x="499.2" y="332.2" width="2" height="2"/><rect x="501.4" y="335.4" width="2" height="2"/><rect x="504.6" y="332.2" width="2" height="2"/><rect x="507.1" y="330.1" width="2" height="2"/><rect x="512.6" y="343.4" width="2" height="2"/><rect x="555.1" y="340.0" width="2" height="2"/><rect x="558.1" y="349.8" width="2" height="2"/><rect x="603.8" y="346.6" width="2" height="2"/><rect x="787.2" y="339.2" width="2" height="2"/><rect x="798.2" y="339.2" width="2" height="2"/><rect x="633.1" y="373.0" width="2" height="2"/><rect x="643.1" y="369.8" width="2" height="2"/><rect x="771.7" y="370.9" width="2" height="2"/><rect x="499.2" y="393.8" width="2" height="2"/><rect x="502.4" y="393.8" width="2" height="2"/><rect x="505.6" y="393.8" width="2" height="2"/><rect x="539.6" y="387.0" width="2" height="2"/><rect x="539.0" y="391.7" width="2" height="2"/><rect x="565.8" y="399.1" width="2" height="2"/><rect x="784.6" y="391.7" width="2" height="2"/><rect x="798.2" y="391.7" width="2" height="2"/><rect x="644.2" y="395.9" width="2" height="2"/><rect x="645.9" y="403.4" width="2" height="2"/><rect x="552.8" y="409.1" width="2" height="2"/><rect x="561.9" y="413.6" width="2" height="2"/><rect x="647.4" y="421.4" width="2" height="2"/><rect x="780.8" y="418.9" width="2" height="2"/><rect x="790.4" y="417.8" width="2" height="2"/><rect x="521.1" y="426.7" width="2" height="2"/><rect x="540.0" y="429.9" width="2" height="2"/><rect x="508.8" y="445.4" width="2" height="2"/><rect x="512.0" y="445.4" width="2" height="2"/><rect x="514.8" y="445.4" width="2" height="2"/><rect x="656.5" y="457.1" width="2" height="2"/><rect x="516.9" y="488.8" width="2" height="2"/><rect x="659.7" y="487.3" width="2" height="2"/><rect x="660.7" y="489.4" width="2" height="2"/><rect x="498.2" y="504.7" width="2" height="2"/><rect x="512.4" y="512.4" width="2" height="2"/><rect x="661.8" y="509.2" width="2" height="2"/><rect x="663.3" y="510.7" width="2" height="2"/><rect x="665.0" y="518.8" width="2" height="2"/><rect x="664.4" y="527.3" width="2" height="2"/><rect x="666.7" y="526.6" width="2" height="2"/><rect x="667.1" y="529.8" width="2" height="2"/><rect x="559.8" y="520.2" width="2" height="2"/><rect x="574.0" y="519.8" width="2" height="2"/><rect x="791.9" y="520.7" width="2" height="2"/><rect x="569.4" y="555.3" width="2" height="2"/><rect x="588.5" y="551.5" width="2" height="2"/><rect x="592.3" y="554.2" width="2" height="2"/><rect x="591.7" y="557.4" width="2" height="2"/><rect x="567.9" y="568.1" width="2" height="2"/><rect x="668.2" y="553.2" width="2" height="2"/><rect x="669.2" y="559.6" width="2" height="2"/><rect x="772.7" y="554.2" width="2" height="2"/><rect x="770.6" y="557.4" width="2" height="2"/><rect x="782.9" y="566.4" width="2" height="2"/><rect x="780.8" y="568.1" width="2" height="2"/><rect x="789.3" y="573.4" width="2" height="2"/><rect x="781.9" y="581.9" width="2" height="2"/><rect x="649.7" y="428.9" width="2" height="2"/><rect x="650.7" y="431.5" width="2" height="2"/><rect x="651.6" y="434.2" width="2" height="2"/><rect x="652.6" y="436.8" width="2" height="2"/><rect x="653.5" y="439.5" width="2" height="2"/><rect x="654.5" y="442.2" width="2" height="2"/><rect x="655.4" y="444.8" width="2" height="2"/><rect x="845.4" y="295.4" width="2" height="2"/><rect x="867.0" y="299.2" width="2" height="2"/><rect x="889.4" y="295.4" width="2" height="2"/><rect x="900.0" y="295.4" width="2" height="2"/><rect x="900.0" y="299.2" width="2" height="2"/><rect x="931.0" y="299.2" width="2" height="2"/><rect x="931.0" y="305.6" width="2" height="2"/><rect x="937.8" y="303.9" width="2" height="2"/><rect x="948.4" y="305.6" width="2" height="2"/><rect x="968.2" y="304.6" width="2" height="2"/><rect x="874.9" y="304.6" width="2" height="2"/><rect x="1035.1" y="297.1" width="2" height="2"/><rect x="1038.7" y="299.2" width="2" height="2"/><rect x="1057.9" y="299.2" width="2" height="2"/><rect x="1062.8" y="299.2" width="2" height="2"/><rect x="1074.9" y="295.4" width="2" height="2"/><rect x="1101.4" y="299.2" width="2" height="2"/><rect x="1030.9" y="304.6" width="2" height="2"/><rect x="1067.0" y="305.6" width="2" height="2"/><rect x="1097.8" y="308.2" width="2" height="2"/><rect x="806.7" y="313.7" width="2" height="2"/><rect x="808.2" y="316.2" width="2" height="2"/><rect x="810.3" y="319.9" width="2" height="2"/><rect x="836.9" y="329.0" width="2" height="2"/><rect x="919.7" y="327.9" width="2" height="2"/><rect x="926.5" y="331.1" width="2" height="2"/><rect x="1012.2" y="323.3" width="2" height="2"/><rect x="1029.8" y="323.3" width="2" height="2"/><rect x="1089.1" y="322.6" width="2" height="2"/><rect x="1111.0" y="322.6" width="2" height="2"/><rect x="1114.2" y="322.6" width="2" height="2"/><rect x="1078.1" y="330.1" width="2" height="2"/><rect x="830.9" y="340.7" width="2" height="2"/><rect x="835.4" y="338.6" width="2" height="2"/><rect x="839.0" y="340.0" width="2" height="2"/><rect x="844.3" y="340.0" width="2" height="2"/><rect x="864.1" y="340.0" width="2" height="2"/><rect x="877.2" y="340.0" width="2" height="2"/><rect x="942.5" y="340.7" width="2" height="2"/><rect x="942.5" y="343.4" width="2" height="2"/><rect x="947.4" y="339.0" width="2" height="2"/><rect x="1012.2" y="340.0" width="2" height="2"/><rect x="1023.2" y="340.0" width="2" height="2"/><rect x="1027.7" y="337.9" width="2" height="2"/><rect x="1043.0" y="343.4" width="2" height="2"/><rect x="1103.6" y="342.2" width="2" height="2"/><rect x="895.7" y="348.8" width="2" height="2"/><rect x="903.4" y="347.7" width="2" height="2"/><rect x="960.5" y="355.6" width="2" height="2"/><rect x="1005.8" y="354.5" width="2" height="2"/><rect x="843.9" y="359.8" width="2" height="2"/><rect x="915.5" y="361.9" width="2" height="2"/><rect x="917.2" y="361.9" width="2" height="2"/><rect x="881.5" y="364.1" width="2" height="2"/><rect x="974.4" y="364.1" width="2" height="2"/><rect x="878.3" y="371.9" width="2" height="2"/><rect x="892.5" y="371.9" width="2" height="2"/><rect x="827.7" y="379.6" width="2" height="2"/><rect x="849.6" y="379.6" width="2" height="2"/><rect x="909.1" y="379.6" width="2" height="2"/><rect x="967.1" y="379.6" width="2" height="2"/><rect x="984.6" y="379.6" width="2" height="2"/><rect x="986.7" y="377.4" width="2" height="2"/><rect x="994.8" y="379.6" width="2" height="2"/><rect x="860.7" y="393.8" width="2" height="2"/><rect x="895.7" y="391.7" width="2" height="2"/><rect x="897.9" y="391.7" width="2" height="2"/><rect x="920.2" y="390.6" width="2" height="2"/><rect x="1082.3" y="391.7" width="2" height="2"/><rect x="873.6" y="411.4" width="2" height="2"/><rect x="925.1" y="409.3" width="2" height="2"/><rect x="894.7" y="414.6" width="2" height="2"/><rect x="968.2" y="415.7" width="2" height="2"/><rect x="985.0" y="415.7" width="2" height="2"/><rect x="998.8" y="415.7" width="2" height="2"/><rect x="1083.8" y="408.0" width="2" height="2"/><rect x="1105.7" y="412.5" width="2" height="2"/><rect x="1079.1" y="415.7" width="2" height="2"/><rect x="1081.2" y="415.7" width="2" height="2"/><rect x="912.3" y="424.6" width="2" height="2"/><rect x="976.7" y="426.7" width="2" height="2"/><rect x="882.6" y="432.1" width="2" height="2"/><rect x="1005.8" y="432.1" width="2" height="2"/><rect x="1012.2" y="432.1" width="2" height="2"/><rect x="1014.3" y="432.1" width="2" height="2"/><rect x="1029.8" y="432.1" width="2" height="2"/><rect x="1002.2" y="445.4" width="2" height="2"/><rect x="1069.1" y="445.4" width="2" height="2"/><rect x="817.7" y="453.3" width="2" height="2"/><rect x="890.4" y="458.6" width="2" height="2"/><rect x="1002.2" y="455.4" width="2" height="2"/><rect x="1004.7" y="453.9" width="2" height="2"/><rect x="968.2" y="460.7" width="2" height="2"/><rect x="1051.9" y="484.8" width="2" height="2"/><rect x="831.1" y="512.4" width="2" height="2"/><rect x="844.3" y="517.7" width="2" height="2"/><rect x="1043.0" y="512.4" width="2" height="2"/><rect x="979.2" y="520.7" width="2" height="2"/><rect x="1050.9" y="524.9" width="2" height="2"/><rect x="1068.5" y="522.8" width="2" height="2"/><rect x="1079.1" y="524.9" width="2" height="2"/><rect x="965.9" y="533.4" width="2" height="2"/><rect x="1071.7" y="530.9" width="2" height="2"/><rect x="1064.9" y="551.5" width="2" height="2"/><rect x="834.3" y="557.4" width="2" height="2"/><rect x="944.8" y="562.7" width="2" height="2"/><rect x="958.4" y="561.7" width="2" height="2"/><rect x="961.2" y="561.7" width="2" height="2"/><rect x="1073.8" y="559.6" width="2" height="2"/><rect x="1077.0" y="560.6" width="2" height="2"/><rect x="1088.0" y="562.7" width="2" height="2"/><rect x="922.5" y="569.1" width="2" height="2"/><rect x="980.3" y="573.4" width="2" height="2"/><rect x="1018.6" y="572.7" width="2" height="2"/><rect x="1101.4" y="571.9" width="2" height="2"/><rect x="897.4" y="579.7" width="2" height="2"/><rect x="923.4" y="582.9" width="2" height="2"/><path d="M874.0 360.8L888.9 360.8" stroke="#98aa22" stroke-width="2" fill="none"/><path d="M1143.2 446.4L1157.8 446.4" stroke="#98aa22" stroke-width="2" fill="none"/><path d="M1218.0 446.4L1232.4 446.4" stroke="#98aa22" stroke-width="2" fill="none"/><path d="M1216.9 518.6L1232.4 518.6" stroke="#98aa22" stroke-width="2" fill="none"/><path d="M1143.2 535.0L1157.8 548.8" stroke="#98aa22" stroke-width="2" fill="none"/><path d="M1218.0 535.0L1232.4 548.8" stroke="#98aa22" stroke-width="2" fill="none"/><rect x="1180.2" y="298.2" width="2" height="2"/><rect x="1185.7" y="301.4" width="2" height="2"/><rect x="1192.5" y="303.5" width="2" height="2"/><rect x="1198.9" y="298.6" width="2" height="2"/><rect x="1273.9" y="298.2" width="2" height="2"/><rect x="1296.6" y="301.4" width="2" height="2"/><rect x="1299.4" y="301.4" width="2" height="2"/><rect x="1292.4" y="308.2" width="2" height="2"/><rect x="1344.0" y="298.2" width="2" height="2"/><rect x="1386.9" y="299.2" width="2" height="2"/><rect x="1389.0" y="309.2" width="2" height="2"/><rect x="1400.0" y="299.2" width="2" height="2"/><rect x="1404.9" y="298.2" width="2" height="2"/><rect x="1116.1" y="322.2" width="2" height="2"/><rect x="1264.3" y="324.3" width="2" height="2"/><rect x="1290.2" y="323.2" width="2" height="2"/><rect x="1289.8" y="332.4" width="2" height="2"/><rect x="1267.9" y="334.3" width="2" height="2"/><rect x="1271.8" y="334.3" width="2" height="2"/><rect x="1267.9" y="335.8" width="2" height="2"/><rect x="1271.8" y="335.8" width="2" height="2"/><rect x="1301.5" y="340.7" width="2" height="2"/><rect x="1301.5" y="343.4" width="2" height="2"/><rect x="1314.0" y="345.3" width="2" height="2"/><rect x="1335.3" y="334.3" width="2" height="2"/><rect x="1335.3" y="336.4" width="2" height="2"/><rect x="1351.8" y="333.2" width="2" height="2"/><rect x="1351.8" y="335.8" width="2" height="2"/><rect x="1359.3" y="332.2" width="2" height="2"/><rect x="1359.3" y="335.8" width="2" height="2"/><rect x="1364.6" y="343.4" width="2" height="2"/><rect x="1370.9" y="343.4" width="2" height="2"/><rect x="1378.4" y="340.7" width="2" height="2"/><rect x="1381.6" y="340.7" width="2" height="2"/><rect x="1383.7" y="343.4" width="2" height="2"/><rect x="1395.8" y="343.4" width="2" height="2"/><rect x="1416.6" y="349.2" width="2" height="2"/><rect x="1343.3" y="354.5" width="2" height="2"/><rect x="1373.7" y="354.5" width="2" height="2"/><rect x="1382.6" y="351.9" width="2" height="2"/><rect x="1187.9" y="359.8" width="2" height="2"/><rect x="1138.4" y="365.1" width="2" height="2"/><rect x="1331.7" y="366.2" width="2" height="2"/><rect x="1338.0" y="368.7" width="2" height="2"/><rect x="1342.3" y="368.7" width="2" height="2"/><rect x="1354.0" y="370.8" width="2" height="2"/><rect x="1402.2" y="379.5" width="2" height="2"/><rect x="1118.8" y="389.5" width="2" height="2"/><rect x="1129.9" y="391.6" width="2" height="2"/><rect x="1159.6" y="388.5" width="2" height="2"/><rect x="1164.9" y="390.6" width="2" height="2"/><rect x="1181.5" y="393.8" width="2" height="2"/><rect x="1188.9" y="398.0" width="2" height="2"/><rect x="1163.9" y="400.6" width="2" height="2"/><rect x="1342.9" y="393.8" width="2" height="2"/><rect x="1415.6" y="393.8" width="2" height="2"/><rect x="1419.2" y="391.6" width="2" height="2"/><rect x="1120.9" y="416.1" width="2" height="2"/><rect x="1177.0" y="415.6" width="2" height="2"/><rect x="1185.7" y="417.8" width="2" height="2"/><rect x="1193.6" y="422.4" width="2" height="2"/><rect x="1252.6" y="416.1" width="2" height="2"/><rect x="1259.4" y="418.8" width="2" height="2"/><rect x="1290.2" y="417.8" width="2" height="2"/><rect x="1296.6" y="417.8" width="2" height="2"/><rect x="1299.4" y="417.8" width="2" height="2"/><rect x="1335.3" y="414.6" width="2" height="2"/><rect x="1124.1" y="447.5" width="2" height="2"/><rect x="1415.1" y="445.4" width="2" height="2"/><rect x="1363.9" y="452.2" width="2" height="2"/><rect x="1183.0" y="460.7" width="2" height="2"/><rect x="1200.0" y="461.7" width="2" height="2"/><rect x="1139.4" y="467.0" width="2" height="2"/><rect x="1140.5" y="471.9" width="2" height="2"/><rect x="1141.6" y="480.4" width="2" height="2"/><rect x="1284.9" y="488.3" width="2" height="2"/><rect x="1284.9" y="495.7" width="2" height="2"/><rect x="1185.7" y="506.8" width="2" height="2"/><rect x="1250.5" y="511.2" width="2" height="2"/><rect x="1271.5" y="512.3" width="2" height="2"/><rect x="1281.1" y="517.0" width="2" height="2"/><rect x="1298.1" y="520.6" width="2" height="2"/><rect x="1250.9" y="522.3" width="2" height="2"/><rect x="1254.1" y="521.2" width="2" height="2"/><rect x="1355.7" y="518.0" width="2" height="2"/><rect x="1385.8" y="505.9" width="2" height="2"/><rect x="1369.2" y="512.7" width="2" height="2"/><rect x="1395.8" y="512.3" width="2" height="2"/><rect x="1392.8" y="524.4" width="2" height="2"/><rect x="1236.5" y="531.2" width="2" height="2"/><rect x="1362.9" y="532.3" width="2" height="2"/><rect x="1260.5" y="549.5" width="2" height="2"/><rect x="1273.2" y="548.4" width="2" height="2"/><rect x="1304.0" y="554.1" width="2" height="2"/><rect x="1304.0" y="557.3" width="2" height="2"/><rect x="1344.4" y="554.1" width="2" height="2"/><rect x="1344.4" y="557.3" width="2" height="2"/><rect x="1350.8" y="557.3" width="2" height="2"/><rect x="1355.0" y="557.3" width="2" height="2"/><rect x="1357.1" y="557.3" width="2" height="2"/><rect x="1390.1" y="550.9" width="2" height="2"/><rect x="1238.6" y="560.5" width="2" height="2"/><rect x="1414.5" y="558.4" width="2" height="2"/><rect x="1414.5" y="560.9" width="2" height="2"/><rect x="1288.1" y="584.3" width="2" height="2"/><path d="M569.3 584.0L573.6 590.4L582.1 594.6L590.6 605.2L593.7 606.9" stroke="#98aa22" stroke-width="1.7" fill="none" stroke-linejoin="round"/><rect x="597.0" y="608.5" width="2" height="2"/><rect x="601.2" y="610.3" width="2" height="2"/><rect x="605.5" y="612.0" width="2" height="2"/><rect x="609.7" y="613.8" width="2" height="2"/><path d="M620.9 615.4L634.1 639.7" stroke="#98aa22" stroke-width="1.7" fill="none" stroke-linejoin="round"/><rect x="636.3" y="639.9" width="2" height="2"/><rect x="648.0" y="640.8" width="2" height="2"/><rect x="658.6" y="642.1" width="2" height="2"/><rect x="671.4" y="636.1" width="2" height="2"/><rect x="672.4" y="638.7" width="2" height="2"/><path d="M674.5 644.6L691.5 659.4L761.6 730.6L773.3 742.3L776.5 745.5L781.8 754.0L793.5 762.5L797.7 764.6L802.0 768.9L806.0 774.2" stroke="#98aa22" stroke-width="1.7" fill="none" stroke-linejoin="round"/><rect x="670.5" y="598.9" width="2" height="2"/><rect x="792.5" y="586.8" width="2" height="2"/><rect x="796.3" y="586.8" width="2" height="2"/><rect x="776.6" y="643.6" width="2" height="2"/><rect x="784.0" y="645.7" width="2" height="2"/><rect x="794.6" y="647.4" width="2" height="2"/><rect x="794.2" y="740.2" width="2" height="2"/><rect x="796.7" y="755.5" width="2" height="2"/><path d="M806.0 773.8L821.9 773.8L827.2 782.7L833.6 788.0L843.2 796.5L854.9 800.7L858.1 807.1L867.6 811.4L879.3 819.9L885.7 827.3L891.0 834.7L896.3 839.0L901.6 842.2L910.1 845.4L920.7 852.8L928.2 856.0L933.5 861.3L944.1 874.1" stroke="#98aa22" stroke-width="1.9" stroke-dasharray="3 1.6" fill="none" stroke-linejoin="round"/><rect x="828.4" y="648.9" width="2" height="2"/><rect x="833.3" y="649.9" width="2" height="2"/><rect x="838.3" y="651.0" width="2" height="2"/><rect x="843.2" y="652.1" width="2" height="2"/><rect x="848.2" y="653.1" width="2" height="2"/><rect x="853.2" y="654.2" width="2" height="2"/><rect x="858.1" y="655.2" width="2" height="2"/><rect x="878.3" y="657.4" width="2" height="2"/><rect x="885.3" y="658.4" width="2" height="2"/><rect x="892.3" y="659.5" width="2" height="2"/><rect x="899.3" y="660.6" width="2" height="2"/><rect x="906.4" y="661.6" width="2" height="2"/><rect x="913.4" y="662.7" width="2" height="2"/><rect x="933.1" y="663.7" width="2" height="2"/><rect x="941.4" y="664.6" width="2" height="2"/><rect x="949.6" y="665.5" width="2" height="2"/><rect x="957.8" y="666.4" width="2" height="2"/><rect x="966.0" y="667.3" width="2" height="2"/><rect x="974.2" y="668.2" width="2" height="2"/><rect x="982.4" y="669.1" width="2" height="2"/><rect x="988.8" y="672.9" width="2" height="2"/><rect x="993.3" y="674.4" width="2" height="2"/><rect x="997.8" y="675.9" width="2" height="2"/><rect x="1002.4" y="677.4" width="2" height="2"/><rect x="1006.9" y="678.9" width="2" height="2"/><rect x="1011.4" y="680.5" width="2" height="2"/><rect x="1015.9" y="682.0" width="2" height="2"/><rect x="1020.4" y="683.5" width="2" height="2"/><rect x="1024.9" y="685.0" width="2" height="2"/><rect x="1040.9" y="688.2" width="2" height="2"/><rect x="1047.8" y="689.8" width="2" height="2"/><rect x="1054.7" y="691.4" width="2" height="2"/><rect x="1078.1" y="692.4" width="2" height="2"/><rect x="1088.7" y="693.1" width="2" height="2"/><rect x="1099.3" y="693.9" width="2" height="2"/><rect x="1109.9" y="694.6" width="2" height="2"/><rect x="831.6" y="648.4" width="2" height="2"/><rect x="834.7" y="652.1" width="2" height="2"/><rect x="904.9" y="659.5" width="2" height="2"/><rect x="910.2" y="662.0" width="2" height="2"/><rect x="1012.2" y="677.6" width="2" height="2"/><rect x="1016.4" y="679.7" width="2" height="2"/><rect x="1021.7" y="682.9" width="2" height="2"/><rect x="842.8" y="586.8" width="2" height="2"/><rect x="893.8" y="587.2" width="2" height="2"/><rect x="908.1" y="587.2" width="2" height="2"/><rect x="911.2" y="587.2" width="2" height="2"/><rect x="950.6" y="587.2" width="2" height="2"/><rect x="950.6" y="589.4" width="2" height="2"/><rect x="1001.1" y="589.4" width="2" height="2"/><rect x="1026.6" y="591.5" width="2" height="2"/><rect x="1091.2" y="590.4" width="2" height="2"/><rect x="1105.7" y="595.7" width="2" height="2"/><rect x="1070.6" y="601.5" width="2" height="2"/><rect x="1075.9" y="601.5" width="2" height="2"/><rect x="1004.3" y="605.7" width="2" height="2"/><rect x="944.2" y="611.3" width="2" height="2"/><rect x="870.4" y="615.9" width="2" height="2"/><rect x="875.8" y="634.4" width="2" height="2"/><rect x="891.5" y="635.5" width="2" height="2"/><rect x="971.8" y="639.9" width="2" height="2"/><rect x="819.4" y="740.9" width="2" height="2"/><rect x="1016.6" y="740.9" width="2" height="2"/><rect x="870.4" y="753.0" width="2" height="2"/><rect x="922.3" y="754.1" width="2" height="2"/><rect x="1028.1" y="756.2" width="2" height="2"/><rect x="893.6" y="761.9" width="2" height="2"/><rect x="842.8" y="763.0" width="2" height="2"/><rect x="830.9" y="766.2" width="2" height="2"/><rect x="847.5" y="765.7" width="2" height="2"/><rect x="851.7" y="765.7" width="2" height="2"/><rect x="999.4" y="765.1" width="2" height="2"/><rect x="871.5" y="770.6" width="2" height="2"/><rect x="890.0" y="772.8" width="2" height="2"/><rect x="892.5" y="772.8" width="2" height="2"/><rect x="906.6" y="772.8" width="2" height="2"/><rect x="909.1" y="777.0" width="2" height="2"/><rect x="912.3" y="778.1" width="2" height="2"/><rect x="850.7" y="777.0" width="2" height="2"/><rect x="859.8" y="775.9" width="2" height="2"/><rect x="832.0" y="781.7" width="2" height="2"/><rect x="840.1" y="787.0" width="2" height="2"/><rect x="967.1" y="781.7" width="2" height="2"/><rect x="992.4" y="781.7" width="2" height="2"/><rect x="992.4" y="783.8" width="2" height="2"/><rect x="1102.1" y="774.9" width="2" height="2"/><rect x="877.2" y="793.8" width="2" height="2"/><rect x="1009.0" y="793.8" width="2" height="2"/><rect x="1022.8" y="793.8" width="2" height="2"/><rect x="1029.2" y="793.8" width="2" height="2"/><rect x="948.4" y="833.1" width="2" height="2"/><rect x="978.2" y="829.9" width="2" height="2"/><rect x="990.3" y="831.0" width="2" height="2"/><rect x="1065.9" y="833.1" width="2" height="2"/><rect x="1102.1" y="827.8" width="2" height="2"/><rect x="1054.0" y="841.8" width="2" height="2"/><rect x="932.1" y="841.8" width="2" height="2"/><rect x="929.9" y="850.7" width="2" height="2"/><rect x="938.4" y="859.9" width="2" height="2"/><rect x="1086.6" y="863.9" width="2" height="2"/><rect x="1094.4" y="857.8" width="2" height="2"/><rect x="1094.4" y="862.4" width="2" height="2"/><rect x="1186.8" y="587.2" width="2" height="2"/><rect x="1288.1" y="585.1" width="2" height="2"/><rect x="1376.9" y="587.2" width="2" height="2"/><rect x="1378.4" y="587.2" width="2" height="2"/><rect x="1233.9" y="593.6" width="2" height="2"/><rect x="1264.7" y="592.6" width="2" height="2"/><rect x="1264.7" y="596.8" width="2" height="2"/><rect x="1266.9" y="596.8" width="2" height="2"/><rect x="1236.1" y="602.5" width="2" height="2"/><rect x="1238.6" y="602.5" width="2" height="2"/><rect x="1241.2" y="602.5" width="2" height="2"/><rect x="1251.6" y="603.6" width="2" height="2"/><rect x="1346.5" y="601.7" width="2" height="2"/><rect x="1342.9" y="604.7" width="2" height="2"/><rect x="1387.5" y="603.6" width="2" height="2"/><rect x="1404.3" y="603.6" width="2" height="2"/><rect x="1118.8" y="604.7" width="2" height="2"/><rect x="1123.1" y="606.8" width="2" height="2"/><rect x="1136.2" y="634.4" width="2" height="2"/><rect x="1423.0" y="642.0" width="2" height="2"/><rect x="1161.3" y="687.1" width="2" height="2"/><rect x="1197.8" y="687.1" width="2" height="2"/><rect x="1119.7" y="696.0" width="2" height="2"/><rect x="1158.5" y="697.3" width="2" height="2"/><rect x="1161.3" y="698.1" width="2" height="2"/><rect x="1173.8" y="699.2" width="2" height="2"/><rect x="1197.8" y="700.2" width="2" height="2"/><rect x="1243.5" y="701.5" width="2" height="2"/><rect x="1247.8" y="703.0" width="2" height="2"/><rect x="1254.1" y="704.7" width="2" height="2"/><rect x="1266.2" y="705.8" width="2" height="2"/><rect x="1277.5" y="707.3" width="2" height="2"/><rect x="1282.8" y="709.0" width="2" height="2"/><rect x="1287.0" y="710.4" width="2" height="2"/><rect x="1291.3" y="711.5" width="2" height="2"/><rect x="1295.5" y="712.6" width="2" height="2"/><rect x="1299.8" y="713.6" width="2" height="2"/><rect x="1303.0" y="714.7" width="2" height="2"/><rect x="1306.2" y="715.8" width="2" height="2"/><rect x="1335.9" y="718.3" width="2" height="2"/><rect x="1341.8" y="717.9" width="2" height="2"/><rect x="1352.9" y="720.0" width="2" height="2"/><rect x="1358.2" y="721.1" width="2" height="2"/><rect x="1361.4" y="722.1" width="2" height="2"/><rect x="1387.9" y="723.2" width="2" height="2"/><rect x="1398.6" y="724.7" width="2" height="2"/><rect x="1405.6" y="725.7" width="2" height="2"/><rect x="1125.2" y="739.8" width="2" height="2"/><rect x="1128.4" y="742.9" width="2" height="2"/><rect x="1185.7" y="745.1" width="2" height="2"/><rect x="1254.8" y="740.8" width="2" height="2"/><rect x="1276.0" y="742.9" width="2" height="2"/><rect x="1259.4" y="750.8" width="2" height="2"/><rect x="1261.6" y="750.8" width="2" height="2"/><rect x="1297.0" y="752.9" width="2" height="2"/><rect x="1350.3" y="740.8" width="2" height="2"/><rect x="1376.9" y="761.8" width="2" height="2"/><rect x="1381.1" y="766.1" width="2" height="2"/><rect x="1369.2" y="769.5" width="2" height="2"/><rect x="1381.1" y="782.7" width="2" height="2"/><rect x="1130.9" y="768.4" width="2" height="2"/><rect x="1137.3" y="765.7" width="2" height="2"/><rect x="1133.1" y="776.9" width="2" height="2"/><rect x="1137.3" y="776.9" width="2" height="2"/><rect x="1174.9" y="771.6" width="2" height="2"/><rect x="1196.8" y="774.8" width="2" height="2"/><rect x="1130.9" y="786.9" width="2" height="2"/><rect x="1188.3" y="788.0" width="2" height="2"/><rect x="1194.7" y="789.0" width="2" height="2"/><rect x="1186.8" y="796.9" width="2" height="2"/><rect x="1122.0" y="804.5" width="2" height="2"/><rect x="1187.9" y="809.8" width="2" height="2"/><rect x="1283.4" y="772.7" width="2" height="2"/><rect x="1307.9" y="772.7" width="2" height="2"/><rect x="1257.3" y="781.6" width="2" height="2"/><rect x="1294.5" y="781.6" width="2" height="2"/><rect x="1420.9" y="793.7" width="2" height="2"/><rect x="1369.9" y="801.8" width="2" height="2"/><rect x="1372.0" y="805.0" width="2" height="2"/><rect x="1372.6" y="811.3" width="2" height="2"/><rect x="1297.0" y="813.5" width="2" height="2"/><rect x="1410.9" y="818.8" width="2" height="2"/><rect x="1157.5" y="825.6" width="2" height="2"/><rect x="1197.2" y="827.7" width="2" height="2"/><rect x="1342.9" y="829.8" width="2" height="2"/><rect x="1361.4" y="829.8" width="2" height="2"/><rect x="1359.3" y="837.9" width="2" height="2"/><rect x="1400.0" y="833.0" width="2" height="2"/><rect x="1237.8" y="840.6" width="2" height="2"/><rect x="1186.8" y="846.4" width="2" height="2"/><rect x="1174.9" y="851.7" width="2" height="2"/><rect x="1169.2" y="861.9" width="2" height="2"/><rect x="1240.3" y="860.6" width="2" height="2"/><rect x="1290.2" y="858.5" width="2" height="2"/><rect x="1340.8" y="855.9" width="2" height="2"/><rect x="1384.8" y="852.8" width="2" height="2"/><rect x="1188.9" y="869.3" width="2" height="2"/><rect x="1195.7" y="867.0" width="2" height="2"/><rect x="1355.0" y="870.4" width="2" height="2"/><rect x="1426.2" y="837.5" width="2" height="2"/><path d="M1143.2 773.7L1157.8 773.7" stroke="#98aa22" stroke-width="2" fill="none"/><path d="M939.9 872.0L946.2 876.2L954.7 880.5L964.3 884.7L973.9 891.1L982.4 894.3L993.0 901.7L1001.5 909.2L1011.1 913.4L1020.6 918.7L1031.2 925.1L1039.7 931.5L1046.1 933.2L1052.5 934.7L1063.1 942.1L1073.7 949.6L1083.3 950.6L1095.0 955.9L1099.2 958.1L1106.7 961.2L1116.0 976.1" stroke="#98aa22" stroke-width="1.9" stroke-dasharray="3 1.6" fill="none" stroke-linejoin="round"/><rect x="1058.9" y="928.4" width="2" height="2"/><rect x="1063.2" y="929.4" width="2" height="2"/><rect x="979.2" y="888.0" width="2" height="2"/><rect x="995.2" y="896.9" width="2" height="2"/><rect x="1003.7" y="896.9" width="2" height="2"/><rect x="1085.5" y="881.2" width="2" height="2"/><rect x="1089.7" y="878.4" width="2" height="2"/><rect x="1104.6" y="874.8" width="2" height="2"/><rect x="1085.5" y="891.6" width="2" height="2"/><rect x="1089.7" y="891.6" width="2" height="2"/><rect x="1066.4" y="940.7" width="2" height="2"/><path d="M1116.0 975.0L1124.5 982.5L1137.2 989.9L1158.5 1006.9L1167.0 1009.0L1184.0 1016.4L1190.3 1017.5L1197.8 1019.6" stroke="#98aa22" stroke-width="1.9" stroke-dasharray="3 1.6" fill="none" stroke-linejoin="round"/><path d="M1201.0 1020.7L1216.9 1050.4" stroke="#98aa22" stroke-width="1.7" fill="none" stroke-linejoin="round"/><path d="M1218.6 1021.7L1231.8 1048.3" stroke="#98aa22" stroke-width="1.7" fill="none" stroke-linejoin="round"/><path d="M1241.3 1051.5L1248.8 1056.8L1262.6 1066.4L1273.2 1068.5L1285.9 1074.8L1302.9 1083.3L1309.3 1085.5L1322.0 1105.6L1327.3 1111.0L1335.8 1119.5L1344.3 1124.8L1358.1 1129.0L1373.0 1136.4L1386.8 1140.7L1398.5 1141.8L1408.1 1147.1L1417.6 1152.4L1425.9 1157.7" stroke="#98aa22" stroke-width="1.9" stroke-dasharray="3 1.6" fill="none" stroke-linejoin="round"/><rect x="1318.9" y="874.2" width="2" height="2"/><rect x="1305.7" y="889.1" width="2" height="2"/><rect x="1162.8" y="900.7" width="2" height="2"/><rect x="1420.9" y="912.4" width="2" height="2"/><rect x="1292.4" y="923.0" width="2" height="2"/><rect x="1161.3" y="932.2" width="2" height="2"/><rect x="1167.0" y="928.8" width="2" height="2"/><rect x="1167.0" y="936.8" width="2" height="2"/><rect x="1167.0" y="942.2" width="2" height="2"/><rect x="1197.8" y="932.2" width="2" height="2"/><rect x="1180.2" y="941.7" width="2" height="2"/><rect x="1235.0" y="942.2" width="2" height="2"/><rect x="1239.3" y="942.2" width="2" height="2"/><rect x="1242.0" y="942.2" width="2" height="2"/><rect x="1240.3" y="944.9" width="2" height="2"/><rect x="1237.8" y="948.5" width="2" height="2"/><rect x="1231.8" y="949.6" width="2" height="2"/><rect x="1250.9" y="941.7" width="2" height="2"/><rect x="1255.2" y="941.1" width="2" height="2"/><rect x="1253.1" y="949.6" width="2" height="2"/><rect x="1274.7" y="939.6" width="2" height="2"/><rect x="1123.1" y="950.7" width="2" height="2"/><rect x="1168.1" y="959.6" width="2" height="2"/><rect x="1336.3" y="946.0" width="2" height="2"/><rect x="1346.1" y="946.0" width="2" height="2"/><rect x="1348.2" y="946.0" width="2" height="2"/><rect x="1411.9" y="947.5" width="2" height="2"/><rect x="1421.9" y="944.3" width="2" height="2"/><rect x="1421.9" y="948.5" width="2" height="2"/><rect x="1301.9" y="960.6" width="2" height="2"/><rect x="1369.9" y="962.3" width="2" height="2"/><rect x="1372.0" y="964.5" width="2" height="2"/><rect x="1382.6" y="963.8" width="2" height="2"/><rect x="1284.5" y="970.4" width="2" height="2"/><rect x="1246.1" y="977.2" width="2" height="2"/><rect x="1255.8" y="975.7" width="2" height="2"/><rect x="1331.7" y="979.3" width="2" height="2"/><rect x="1333.8" y="979.3" width="2" height="2"/><rect x="1374.6" y="980.4" width="2" height="2"/><rect x="1377.3" y="980.4" width="2" height="2"/><rect x="1425.5" y="979.3" width="2" height="2"/><rect x="1215.5" y="986.8" width="2" height="2"/><rect x="1275.8" y="985.9" width="2" height="2"/><rect x="1304.0" y="985.9" width="2" height="2"/><rect x="1332.1" y="989.9" width="2" height="2"/><rect x="1344.0" y="985.9" width="2" height="2"/><rect x="1149.0" y="991.6" width="2" height="2"/><rect x="1153.2" y="993.1" width="2" height="2"/><rect x="1156.4" y="993.8" width="2" height="2"/><rect x="1260.9" y="1006.3" width="2" height="2"/><rect x="1185.1" y="1005.5" width="2" height="2"/><rect x="1180.8" y="1010.1" width="2" height="2"/><rect x="1231.8" y="1010.1" width="2" height="2"/><rect x="1233.9" y="1013.3" width="2" height="2"/><rect x="1349.7" y="1007.6" width="2" height="2"/><rect x="1360.3" y="1015.4" width="2" height="2"/><rect x="1414.9" y="1009.1" width="2" height="2"/><rect x="1414.9" y="1012.2" width="2" height="2"/><rect x="1289.2" y="1019.7" width="2" height="2"/><rect x="1294.5" y="1059.4" width="2" height="2"/><rect x="1344.4" y="1066.8" width="2" height="2"/><rect x="1400.0" y="1051.5" width="2" height="2"/><rect x="1403.2" y="1066.8" width="2" height="2"/><rect x="1320.0" y="1091.5" width="2" height="2"/><rect x="1324.2" y="1091.5" width="2" height="2"/><rect x="1328.5" y="1091.5" width="2" height="2"/><rect x="1320.0" y="1095.1" width="2" height="2"/><rect x="1324.2" y="1095.1" width="2" height="2"/><rect x="1328.5" y="1095.1" width="2" height="2"/><rect x="1322.1" y="1102.1" width="2" height="2"/><rect x="1327.4" y="1102.1" width="2" height="2"/><rect x="1367.1" y="1110.0" width="2" height="2"/><rect x="1380.1" y="1118.5" width="2" height="2"/><rect x="1372.6" y="1130.1" width="2" height="2"/><rect x="1382.6" y="1130.6" width="2" height="2"/><rect x="1425.5" y="1147.1" width="2" height="2"/><path d="M290.0 18.1H295.7" stroke="#98aa22" stroke-width="2" stroke-dasharray="2 1.5" fill="none"/><path d="M300.4 18.1H305.2" stroke="#98aa22" stroke-width="2" stroke-dasharray="2 1.5" fill="none"/><path d="M309.9 18.1H315.6" stroke="#98aa22" stroke-width="2" stroke-dasharray="2 1.5" fill="none"/><path d="M318.4 18.1H334.5" stroke="#98aa22" stroke-width="2" stroke-dasharray="2 1.5" fill="none"/><path d="M344.5 18.1H360.1" stroke="#98aa22" stroke-width="2" stroke-dasharray="2 1.5" fill="none"/><path d="M366.8 18.1H384.8" stroke="#98aa22" stroke-width="2" stroke-dasharray="2 1.5" fill="none"/><path d="M394.3 18.1H401.8" stroke="#98aa22" stroke-width="2" stroke-dasharray="2 1.5" fill="none"/><path d="M406.6 18.1H445.0" stroke="#98aa22" stroke-width="2" stroke-dasharray="2 1.5" fill="none"/><rect x="399.0" y="19.0" width="2" height="2"/><rect x="413.2" y="19.0" width="2" height="2"/><rect x="424.5" y="19.0" width="2" height="2"/><rect x="428.8" y="19.0" width="2" height="2"/><rect x="433.5" y="19.0" width="2" height="2"/><rect x="289.9" y="21.8" width="2" height="2"/><rect x="289.9" y="24.6" width="2" height="2"/><rect x="296.1" y="21.8" width="2" height="2"/><rect x="296.1" y="24.6" width="2" height="2"/><rect x="366.3" y="21.8" width="2" height="2"/><rect x="366.3" y="24.6" width="2" height="2"/><rect x="414.6" y="21.8" width="2" height="2"/><rect x="414.6" y="24.6" width="2" height="2"/><rect x="422.6" y="21.8" width="2" height="2"/><rect x="422.6" y="24.6" width="2" height="2"/><rect x="300.8" y="29.4" width="2" height="2"/><rect x="322.2" y="27.0" width="2" height="2"/><rect x="322.2" y="29.4" width="2" height="2"/><rect x="332.1" y="28.9" width="2" height="2"/><rect x="385.7" y="28.9" width="2" height="2"/><rect x="392.8" y="27.0" width="2" height="2"/><rect x="392.8" y="29.4" width="2" height="2"/><rect x="412.2" y="28.9" width="2" height="2"/><rect x="423.6" y="28.9" width="2" height="2"/><rect x="434.5" y="27.0" width="2" height="2"/><rect x="434.5" y="29.4" width="2" height="2"/><rect x="330.7" y="29.1" width="2" height="2"/><rect x="333.5" y="29.1" width="2" height="2"/><rect x="299.4" y="37.4" width="2" height="2"/><rect x="302.7" y="37.4" width="2" height="2"/><rect x="299.4" y="39.3" width="2" height="2"/><rect x="302.7" y="39.3" width="2" height="2"/><rect x="327.9" y="37.4" width="2" height="2"/><rect x="330.7" y="37.4" width="2" height="2"/><rect x="333.5" y="37.4" width="2" height="2"/><rect x="327.9" y="39.3" width="2" height="2"/><rect x="330.7" y="39.3" width="2" height="2"/><rect x="333.5" y="39.3" width="2" height="2"/><rect x="345.9" y="37.4" width="2" height="2"/><rect x="348.7" y="37.4" width="2" height="2"/><rect x="350.6" y="37.4" width="2" height="2"/><rect x="348.7" y="39.3" width="2" height="2"/><rect x="350.6" y="39.3" width="2" height="2"/><rect x="379.5" y="37.4" width="2" height="2"/><rect x="382.4" y="37.4" width="2" height="2"/><rect x="380.0" y="39.5" width="2" height="2"/><rect x="381.9" y="39.8" width="2" height="2"/><rect x="417.4" y="37.4" width="2" height="2"/><rect x="420.8" y="37.4" width="2" height="2"/><rect x="423.6" y="37.4" width="2" height="2"/><rect x="428.3" y="37.4" width="2" height="2"/><rect x="417.4" y="39.8" width="2" height="2"/><rect x="422.6" y="39.8" width="2" height="2"/><rect x="427.4" y="39.3" width="2" height="2"/><rect x="436.4" y="37.4" width="2" height="2"/><rect x="440.7" y="37.4" width="2" height="2"/><rect x="444.0" y="37.4" width="2" height="2"/><rect x="437.8" y="39.8" width="2" height="2"/><rect x="440.7" y="39.8" width="2" height="2"/><rect x="443.5" y="39.8" width="2" height="2"/><rect x="296.1" y="39.8" width="2" height="2"/><rect x="317.0" y="39.8" width="2" height="2"/><rect x="324.5" y="39.8" width="2" height="2"/><rect x="351.1" y="39.8" width="2" height="2"/><rect x="356.3" y="39.8" width="2" height="2"/><rect x="366.3" y="39.8" width="2" height="2"/><rect x="370.5" y="39.8" width="2" height="2"/><path d="M332.7 40.1L345.0 40.1" stroke="#98aa22" stroke-width="2" fill="none"/><rect x="290.9" y="42.6" width="2" height="2"/><rect x="290.9" y="44.5" width="2" height="2"/><rect x="301.3" y="43.6" width="2" height="2"/><rect x="397.1" y="42.6" width="2" height="2"/><rect x="397.1" y="44.5" width="2" height="2"/><rect x="396.1" y="43.6" width="2" height="2"/><rect x="407.0" y="42.6" width="2" height="2"/><rect x="407.0" y="44.5" width="2" height="2"/><rect x="291.8" y="47.9" width="2" height="2"/><rect x="300.4" y="47.9" width="2" height="2"/><rect x="323.6" y="47.4" width="2" height="2"/><rect x="377.6" y="47.4" width="2" height="2"/><rect x="333.5" y="49.9" width="2" height="2"/><rect x="394.7" y="49.9" width="2" height="2"/><rect x="410.3" y="49.9" width="2" height="2"/><rect x="436.9" y="49.9" width="2" height="2"/><rect x="438.3" y="49.9" width="2" height="2"/><path d="M306.6 48.7L317.5 48.7" stroke="#98aa22" stroke-width="2" fill="none"/><path d="M359.2 47.9L366.8 47.9" stroke="#98aa22" stroke-width="2" fill="none"/><path d="M445.0 18.1H451.6" stroke="#98aa22" stroke-width="2" stroke-dasharray="2 1.5" fill="none"/><path d="M481.0 18.1H547.4" stroke="#98aa22" stroke-width="2" stroke-dasharray="2 1.5" fill="none"/><path d="M549.3 18.1H558.7" stroke="#98aa22" stroke-width="2" stroke-dasharray="2 1.5" fill="none"/><path d="M561.6 18.1H569.2" stroke="#98aa22" stroke-width="2" stroke-dasharray="2 1.5" fill="none"/><path d="M572.0 18.1H579.6" stroke="#98aa22" stroke-width="2" stroke-dasharray="2 1.5" fill="none"/><path d="M581.5 18.1H587.2" stroke="#98aa22" stroke-width="2" stroke-dasharray="2 1.5" fill="none"/><path d="M589.1 18.1H600.0" stroke="#98aa22" stroke-width="2" stroke-dasharray="2 1.5" fill="none"/><rect x="474.3" y="17.1" width="2" height="2"/><rect x="493.8" y="19.0" width="2" height="2"/><rect x="499.0" y="19.0" width="2" height="2"/><rect x="502.3" y="19.0" width="2" height="2"/><rect x="508.0" y="19.0" width="2" height="2"/><rect x="523.6" y="19.0" width="2" height="2"/><rect x="541.6" y="19.0" width="2" height="2"/><rect x="565.3" y="19.0" width="2" height="2"/><rect x="487.1" y="22.3" width="2" height="2"/><rect x="487.1" y="24.6" width="2" height="2"/><rect x="523.1" y="22.7" width="2" height="2"/><rect x="522.2" y="26.1" width="2" height="2"/><rect x="551.1" y="21.3" width="2" height="2"/><rect x="553.0" y="23.2" width="2" height="2"/><rect x="554.9" y="23.2" width="2" height="2"/><rect x="552.1" y="24.6" width="2" height="2"/><rect x="554.9" y="24.6" width="2" height="2"/><rect x="583.3" y="22.3" width="2" height="2"/><rect x="583.3" y="24.6" width="2" height="2"/><rect x="590.4" y="22.3" width="2" height="2"/><rect x="590.4" y="24.6" width="2" height="2"/><rect x="594.7" y="22.3" width="2" height="2"/><rect x="594.7" y="24.6" width="2" height="2"/><rect x="598.0" y="22.3" width="2" height="2"/><rect x="598.0" y="24.6" width="2" height="2"/><rect x="452.1" y="29.1" width="2" height="2"/><rect x="494.7" y="29.1" width="2" height="2"/><rect x="498.0" y="29.1" width="2" height="2"/><rect x="552.1" y="28.0" width="2" height="2"/><rect x="556.3" y="29.1" width="2" height="2"/><rect x="549.7" y="33.8" width="2" height="2"/><rect x="583.8" y="32.5" width="2" height="2"/><rect x="444.9" y="37.4" width="2" height="2"/><rect x="447.8" y="37.4" width="2" height="2"/><rect x="450.6" y="37.4" width="2" height="2"/><rect x="453.0" y="37.4" width="2" height="2"/><rect x="458.2" y="37.0" width="2" height="2"/><rect x="444.9" y="39.8" width="2" height="2"/><rect x="447.8" y="39.8" width="2" height="2"/><rect x="450.6" y="39.8" width="2" height="2"/><rect x="453.0" y="39.8" width="2" height="2"/><rect x="458.2" y="39.8" width="2" height="2"/><rect x="463.0" y="39.8" width="2" height="2"/><rect x="493.8" y="37.4" width="2" height="2"/><rect x="496.1" y="37.4" width="2" height="2"/><rect x="499.0" y="37.4" width="2" height="2"/><rect x="493.8" y="39.8" width="2" height="2"/><rect x="496.1" y="39.8" width="2" height="2"/><rect x="499.0" y="39.8" width="2" height="2"/><rect x="508.9" y="37.0" width="2" height="2"/><rect x="508.9" y="39.3" width="2" height="2"/><rect x="514.6" y="37.0" width="2" height="2"/><rect x="517.0" y="37.0" width="2" height="2"/><rect x="519.4" y="37.0" width="2" height="2"/><rect x="514.6" y="39.8" width="2" height="2"/><rect x="517.0" y="39.8" width="2" height="2"/><rect x="519.4" y="39.8" width="2" height="2"/><rect x="539.7" y="37.0" width="2" height="2"/><rect x="539.7" y="39.8" width="2" height="2"/><rect x="545.4" y="40.3" width="2" height="2"/><rect x="547.8" y="37.0" width="2" height="2"/><rect x="547.8" y="39.3" width="2" height="2"/><rect x="556.3" y="37.0" width="2" height="2"/><rect x="556.3" y="39.8" width="2" height="2"/><rect x="569.6" y="40.3" width="2" height="2"/><rect x="577.2" y="37.0" width="2" height="2"/><rect x="577.2" y="39.8" width="2" height="2"/><rect x="581.4" y="37.0" width="2" height="2"/><rect x="581.4" y="39.3" width="2" height="2"/><rect x="585.7" y="37.0" width="2" height="2"/><rect x="588.5" y="40.3" width="2" height="2"/><rect x="586.2" y="39.3" width="2" height="2"/><rect x="461.1" y="42.2" width="2" height="2"/><rect x="461.1" y="44.5" width="2" height="2"/><rect x="496.6" y="42.2" width="2" height="2"/><rect x="496.6" y="44.5" width="2" height="2"/><rect x="502.8" y="43.6" width="2" height="2"/><rect x="572.4" y="42.2" width="2" height="2"/><rect x="572.4" y="44.5" width="2" height="2"/><rect x="592.8" y="42.2" width="2" height="2"/><rect x="595.7" y="42.2" width="2" height="2"/><rect x="598.5" y="42.2" width="2" height="2"/><rect x="592.8" y="44.5" width="2" height="2"/><rect x="595.7" y="44.5" width="2" height="2"/><rect x="598.5" y="44.5" width="2" height="2"/><rect x="447.8" y="49.9" width="2" height="2"/><rect x="459.6" y="49.9" width="2" height="2"/><rect x="491.9" y="49.9" width="2" height="2"/><rect x="506.6" y="49.9" width="2" height="2"/><rect x="513.7" y="49.9" width="2" height="2"/><rect x="519.8" y="49.9" width="2" height="2"/><rect x="544.0" y="49.9" width="2" height="2"/><rect x="548.7" y="49.9" width="2" height="2"/><rect x="581.4" y="47.9" width="2" height="2"/><rect x="593.8" y="55.4" width="2" height="2"/><rect x="594.7" y="57.3" width="2" height="2"/><path d="M600.0 17.6L628.4 17.4" stroke="#98aa22" stroke-width="2" fill="none"/><rect x="630.8" y="16.6" width="2" height="2"/><rect x="631.2" y="19.0" width="2" height="2"/><rect x="628.9" y="28.4" width="2" height="2"/><rect x="599.0" y="22.7" width="2" height="2"/><rect x="599.0" y="24.6" width="2" height="2"/><rect x="604.2" y="22.7" width="2" height="2"/><rect x="604.2" y="24.6" width="2" height="2"/><rect x="611.3" y="22.7" width="2" height="2"/><rect x="611.3" y="24.6" width="2" height="2"/><rect x="613.2" y="22.7" width="2" height="2"/><rect x="613.2" y="24.6" width="2" height="2"/><rect x="615.6" y="22.7" width="2" height="2"/><rect x="615.6" y="24.6" width="2" height="2"/><rect x="618.9" y="22.7" width="2" height="2"/><rect x="618.9" y="24.6" width="2" height="2"/><rect x="632.2" y="37.0" width="2" height="2"/><rect x="632.2" y="39.8" width="2" height="2"/><rect x="634.5" y="36.0" width="2" height="2"/><rect x="599.9" y="42.2" width="2" height="2"/><rect x="599.9" y="44.5" width="2" height="2"/><rect x="602.8" y="42.2" width="2" height="2"/><rect x="602.8" y="44.5" width="2" height="2"/><rect x="605.6" y="42.2" width="2" height="2"/><rect x="605.6" y="44.5" width="2" height="2"/><rect x="608.0" y="42.2" width="2" height="2"/><rect x="608.0" y="44.5" width="2" height="2"/><rect x="610.4" y="42.2" width="2" height="2"/><rect x="610.4" y="44.5" width="2" height="2"/><rect x="613.7" y="42.2" width="2" height="2"/><rect x="613.7" y="44.5" width="2" height="2"/><rect x="616.5" y="42.2" width="2" height="2"/><rect x="616.5" y="44.5" width="2" height="2"/><rect x="618.4" y="42.2" width="2" height="2"/><rect x="618.4" y="44.5" width="2" height="2"/><rect x="635.5" y="51.2" width="2" height="2"/><rect x="690.5" y="49.9" width="2" height="2"/><path d="M774.0 17.6H790.1" stroke="#98aa22" stroke-width="2" stroke-dasharray="2 1.5" fill="none"/><path d="M810.9 17.6H825.1" stroke="#98aa22" stroke-width="2" stroke-dasharray="2 1.5" fill="none"/><path d="M827.0 17.6H846.0" stroke="#98aa22" stroke-width="2" stroke-dasharray="2 1.5" fill="none"/><path d="M848.8 17.6H910.0" stroke="#98aa22" stroke-width="2" stroke-dasharray="2 1.5" fill="none"/><rect x="792.9" y="16.6" width="2" height="2"/><rect x="794.8" y="16.6" width="2" height="2"/><rect x="798.5" y="16.6" width="2" height="2"/><rect x="801.4" y="16.6" width="2" height="2"/><rect x="838.4" y="19.0" width="2" height="2"/><rect x="852.6" y="19.0" width="2" height="2"/><rect x="855.4" y="19.0" width="2" height="2"/><rect x="862.1" y="19.0" width="2" height="2"/><rect x="864.0" y="19.0" width="2" height="2"/><rect x="877.2" y="19.0" width="2" height="2"/><rect x="819.4" y="22.3" width="2" height="2"/><rect x="821.8" y="22.3" width="2" height="2"/><rect x="819.4" y="24.6" width="2" height="2"/><rect x="821.8" y="24.6" width="2" height="2"/><rect x="840.7" y="22.3" width="2" height="2"/><rect x="840.7" y="24.6" width="2" height="2"/><rect x="862.5" y="22.3" width="2" height="2"/><rect x="864.9" y="22.3" width="2" height="2"/><rect x="867.3" y="22.3" width="2" height="2"/><rect x="871.5" y="22.3" width="2" height="2"/><rect x="862.5" y="24.6" width="2" height="2"/><rect x="864.9" y="24.6" width="2" height="2"/><rect x="867.3" y="24.6" width="2" height="2"/><rect x="871.5" y="24.6" width="2" height="2"/><rect x="785.8" y="29.1" width="2" height="2"/><rect x="787.6" y="29.1" width="2" height="2"/><rect x="839.8" y="29.1" width="2" height="2"/><rect x="853.1" y="29.1" width="2" height="2"/><rect x="873.0" y="29.1" width="2" height="2"/><rect x="880.5" y="29.1" width="2" height="2"/><rect x="889.1" y="29.1" width="2" height="2"/><path d="M860.2 30.1L871.6 30.1" stroke="#98aa22" stroke-width="2" fill="none"/><path d="M758.8 38.0L771.1 38.0" stroke="#98aa22" stroke-width="2" fill="none"/><path d="M758.8 48.9L771.1 48.9" stroke="#98aa22" stroke-width="2" fill="none"/><path d="M802.4 48.4L818.5 48.4" stroke="#98aa22" stroke-width="2" fill="none"/><rect x="775.8" y="37.0" width="2" height="2"/><rect x="778.6" y="37.0" width="2" height="2"/><rect x="782.4" y="37.0" width="2" height="2"/><rect x="785.3" y="37.0" width="2" height="2"/><rect x="787.2" y="37.0" width="2" height="2"/><rect x="793.8" y="37.0" width="2" height="2"/><rect x="797.6" y="37.0" width="2" height="2"/><rect x="775.8" y="39.8" width="2" height="2"/><rect x="778.6" y="39.8" width="2" height="2"/><rect x="782.4" y="39.8" width="2" height="2"/><rect x="785.3" y="39.8" width="2" height="2"/><rect x="787.2" y="39.8" width="2" height="2"/><rect x="793.8" y="39.8" width="2" height="2"/><rect x="797.6" y="39.8" width="2" height="2"/><rect x="773.9" y="40.3" width="2" height="2"/><rect x="826.5" y="37.0" width="2" height="2"/><rect x="826.5" y="39.3" width="2" height="2"/><rect x="831.7" y="37.0" width="2" height="2"/><rect x="831.7" y="39.3" width="2" height="2"/><rect x="821.8" y="40.3" width="2" height="2"/><rect x="834.6" y="40.3" width="2" height="2"/><rect x="845.0" y="37.0" width="2" height="2"/><rect x="845.0" y="39.3" width="2" height="2"/><rect x="847.8" y="39.3" width="2" height="2"/><rect x="849.7" y="37.0" width="2" height="2"/><rect x="852.6" y="37.0" width="2" height="2"/><rect x="854.5" y="37.0" width="2" height="2"/><rect x="856.4" y="37.0" width="2" height="2"/><rect x="858.3" y="37.0" width="2" height="2"/><rect x="860.2" y="37.0" width="2" height="2"/><rect x="849.7" y="39.8" width="2" height="2"/><rect x="852.6" y="39.8" width="2" height="2"/><rect x="854.5" y="39.8" width="2" height="2"/><rect x="856.4" y="39.8" width="2" height="2"/><rect x="858.3" y="39.8" width="2" height="2"/><rect x="861.1" y="39.8" width="2" height="2"/><rect x="872.5" y="37.0" width="2" height="2"/><rect x="875.8" y="37.0" width="2" height="2"/><rect x="875.8" y="39.3" width="2" height="2"/><rect x="889.1" y="37.0" width="2" height="2"/><rect x="899.0" y="37.0" width="2" height="2"/><rect x="908.5" y="37.0" width="2" height="2"/><rect x="908.5" y="39.3" width="2" height="2"/><rect x="779.1" y="42.2" width="2" height="2"/><rect x="779.1" y="44.5" width="2" height="2"/><rect x="818.9" y="42.2" width="2" height="2"/><rect x="818.9" y="44.5" width="2" height="2"/><rect x="834.6" y="42.2" width="2" height="2"/><rect x="834.6" y="44.5" width="2" height="2"/><rect x="842.2" y="42.2" width="2" height="2"/><rect x="842.2" y="44.5" width="2" height="2"/><rect x="877.2" y="42.2" width="2" height="2"/><rect x="877.2" y="44.5" width="2" height="2"/><rect x="784.8" y="49.9" width="2" height="2"/><rect x="829.8" y="49.9" width="2" height="2"/><rect x="858.3" y="49.9" width="2" height="2"/><rect x="887.2" y="49.9" width="2" height="2"/><rect x="902.3" y="49.9" width="2" height="2"/><rect x="906.6" y="47.9" width="2" height="2"/><path d="M910.0 17.6H929.9" stroke="#98aa22" stroke-width="2" stroke-dasharray="2 1.5" fill="none"/><path d="M936.5 17.6H1042.7" stroke="#98aa22" stroke-width="2" stroke-dasharray="2 1.5" fill="none"/><path d="M1057.9 17.6H1065.0" stroke="#98aa22" stroke-width="2" stroke-dasharray="2 1.5" fill="none"/><rect x="918.5" y="19.4" width="2" height="2"/><rect x="1036.5" y="19.0" width="2" height="2"/><rect x="1059.2" y="19.0" width="2" height="2"/><rect x="925.6" y="22.3" width="2" height="2"/><rect x="925.6" y="24.6" width="2" height="2"/><rect x="935.5" y="22.3" width="2" height="2"/><rect x="935.5" y="24.6" width="2" height="2"/><rect x="959.2" y="21.8" width="2" height="2"/><rect x="961.1" y="23.2" width="2" height="2"/><rect x="963.0" y="23.2" width="2" height="2"/><rect x="958.3" y="24.6" width="2" height="2"/><rect x="960.7" y="24.6" width="2" height="2"/><rect x="963.0" y="24.6" width="2" height="2"/><rect x="1000.0" y="22.3" width="2" height="2"/><rect x="1000.0" y="24.6" width="2" height="2"/><rect x="1009.0" y="22.3" width="2" height="2"/><rect x="1009.0" y="24.6" width="2" height="2"/><rect x="1019.9" y="22.3" width="2" height="2"/><rect x="1019.9" y="24.6" width="2" height="2"/><rect x="1028.9" y="22.3" width="2" height="2"/><rect x="1028.9" y="24.6" width="2" height="2"/><rect x="1034.1" y="22.7" width="2" height="2"/><rect x="929.9" y="27.0" width="2" height="2"/><rect x="929.9" y="29.4" width="2" height="2"/><rect x="935.1" y="27.0" width="2" height="2"/><rect x="937.4" y="29.1" width="2" height="2"/><rect x="945.0" y="27.0" width="2" height="2"/><rect x="945.0" y="29.4" width="2" height="2"/><rect x="959.7" y="30.3" width="2" height="2"/><rect x="965.9" y="28.0" width="2" height="2"/><rect x="973.9" y="27.0" width="2" height="2"/><rect x="973.9" y="29.4" width="2" height="2"/><rect x="1037.4" y="29.1" width="2" height="2"/><rect x="1023.2" y="32.7" width="2" height="2"/><rect x="909.9" y="37.0" width="2" height="2"/><rect x="912.8" y="37.0" width="2" height="2"/><rect x="909.9" y="39.8" width="2" height="2"/><rect x="912.8" y="39.8" width="2" height="2"/><rect x="917.5" y="39.8" width="2" height="2"/><rect x="919.9" y="37.0" width="2" height="2"/><rect x="923.2" y="37.0" width="2" height="2"/><rect x="928.0" y="37.0" width="2" height="2"/><rect x="928.0" y="39.3" width="2" height="2"/><rect x="946.0" y="37.0" width="2" height="2"/><rect x="946.0" y="39.8" width="2" height="2"/><rect x="955.0" y="37.0" width="2" height="2"/><rect x="955.0" y="39.8" width="2" height="2"/><rect x="969.2" y="37.0" width="2" height="2"/><rect x="971.6" y="37.0" width="2" height="2"/><rect x="974.4" y="37.0" width="2" height="2"/><rect x="969.2" y="39.8" width="2" height="2"/><rect x="971.6" y="39.8" width="2" height="2"/><rect x="974.4" y="39.8" width="2" height="2"/><rect x="987.7" y="37.0" width="2" height="2"/><rect x="987.7" y="39.8" width="2" height="2"/><rect x="990.5" y="40.3" width="2" height="2"/><rect x="1006.6" y="37.0" width="2" height="2"/><rect x="1009.5" y="37.0" width="2" height="2"/><rect x="1012.3" y="37.0" width="2" height="2"/><rect x="1014.2" y="37.0" width="2" height="2"/><rect x="1006.6" y="39.8" width="2" height="2"/><rect x="1009.5" y="39.8" width="2" height="2"/><rect x="1012.3" y="39.8" width="2" height="2"/><rect x="1017.1" y="39.8" width="2" height="2"/><rect x="1024.6" y="37.0" width="2" height="2"/><rect x="1024.6" y="39.8" width="2" height="2"/><rect x="1033.2" y="37.0" width="2" height="2"/><rect x="1037.0" y="37.0" width="2" height="2"/><rect x="1033.2" y="39.3" width="2" height="2"/><rect x="1060.7" y="37.0" width="2" height="2"/><rect x="1063.5" y="39.8" width="2" height="2"/><rect x="1040.3" y="39.8" width="2" height="2"/><path d="M1041.3 38.9L1054.5 38.9" stroke="#98aa22" stroke-width="3.5" fill="none"/><rect x="914.7" y="42.2" width="2" height="2"/><rect x="914.7" y="44.5" width="2" height="2"/><rect x="916.6" y="44.5" width="2" height="2"/><rect x="924.2" y="42.2" width="2" height="2"/><rect x="924.2" y="44.5" width="2" height="2"/><rect x="948.8" y="42.2" width="2" height="2"/><rect x="951.7" y="42.2" width="2" height="2"/><rect x="948.8" y="44.5" width="2" height="2"/><rect x="951.7" y="44.5" width="2" height="2"/><rect x="973.0" y="42.2" width="2" height="2"/><rect x="973.0" y="44.5" width="2" height="2"/><rect x="978.7" y="42.2" width="2" height="2"/><rect x="978.7" y="44.5" width="2" height="2"/><rect x="995.7" y="42.2" width="2" height="2"/><rect x="998.6" y="42.2" width="2" height="2"/><rect x="1001.4" y="42.2" width="2" height="2"/><rect x="995.7" y="44.5" width="2" height="2"/><rect x="998.6" y="44.5" width="2" height="2"/><rect x="1001.4" y="44.5" width="2" height="2"/><rect x="1033.2" y="42.4" width="2" height="2"/><rect x="1035.5" y="42.4" width="2" height="2"/><rect x="1037.9" y="42.4" width="2" height="2"/><rect x="926.5" y="47.9" width="2" height="2"/><rect x="928.9" y="47.9" width="2" height="2"/><rect x="934.1" y="47.4" width="2" height="2"/><rect x="940.8" y="47.4" width="2" height="2"/><rect x="944.5" y="47.4" width="2" height="2"/><rect x="949.8" y="47.4" width="2" height="2"/><rect x="956.4" y="47.4" width="2" height="2"/><rect x="957.8" y="47.4" width="2" height="2"/><rect x="961.6" y="46.4" width="2" height="2"/><rect x="964.9" y="49.9" width="2" height="2"/><rect x="976.8" y="49.9" width="2" height="2"/><rect x="982.5" y="49.9" width="2" height="2"/><rect x="987.2" y="47.7" width="2" height="2"/><rect x="996.7" y="47.4" width="2" height="2"/><rect x="1014.2" y="49.9" width="2" height="2"/><rect x="1019.9" y="47.4" width="2" height="2"/><rect x="1022.3" y="49.9" width="2" height="2"/><rect x="1032.2" y="49.9" width="2" height="2"/><rect x="1039.8" y="49.9" width="2" height="2"/><path d="M1065.0 17.6H1078.3" stroke="#98aa22" stroke-width="2" stroke-dasharray="2 1.5" fill="none"/><path d="M1081.1 17.6H1085.9" stroke="#98aa22" stroke-width="2" stroke-dasharray="2 1.5" fill="none"/><path d="M1089.2 17.6H1120.9" stroke="#98aa22" stroke-width="2" stroke-dasharray="2 1.5" fill="none"/><path d="M1122.3 17.6H1131.4" stroke="#98aa22" stroke-width="2" stroke-dasharray="2 1.5" fill="none"/><path d="M1144.6 17.6H1220.0" stroke="#98aa22" stroke-width="2" stroke-dasharray="2 1.5" fill="none"/><rect x="1102.4" y="22.3" width="2" height="2"/><rect x="1102.4" y="24.6" width="2" height="2"/><rect x="1114.2" y="22.3" width="2" height="2"/><rect x="1114.2" y="24.6" width="2" height="2"/><rect x="1183.9" y="22.3" width="2" height="2"/><rect x="1183.9" y="24.6" width="2" height="2"/><rect x="1084.9" y="27.0" width="2" height="2"/><rect x="1084.9" y="29.4" width="2" height="2"/><rect x="1094.8" y="27.0" width="2" height="2"/><rect x="1096.2" y="29.1" width="2" height="2"/><rect x="1099.1" y="29.1" width="2" height="2"/><rect x="1157.4" y="27.0" width="2" height="2"/><rect x="1157.4" y="29.4" width="2" height="2"/><rect x="1194.8" y="29.1" width="2" height="2"/><rect x="1215.7" y="27.0" width="2" height="2"/><rect x="1215.7" y="29.4" width="2" height="2"/><rect x="1086.7" y="33.8" width="2" height="2"/><path d="M1065.0 40.8L1076.8 40.8" stroke="#98aa22" stroke-width="2" fill="none"/><rect x="1090.5" y="37.0" width="2" height="2"/><rect x="1092.9" y="37.0" width="2" height="2"/><rect x="1095.3" y="37.0" width="2" height="2"/><rect x="1097.6" y="37.0" width="2" height="2"/><rect x="1090.5" y="39.8" width="2" height="2"/><rect x="1092.9" y="39.8" width="2" height="2"/><rect x="1095.3" y="39.8" width="2" height="2"/><rect x="1097.6" y="39.8" width="2" height="2"/><rect x="1083.4" y="40.3" width="2" height="2"/><rect x="1103.3" y="39.8" width="2" height="2"/><rect x="1105.7" y="39.8" width="2" height="2"/><rect x="1107.6" y="39.8" width="2" height="2"/><rect x="1110.0" y="37.0" width="2" height="2"/><rect x="1110.0" y="39.8" width="2" height="2"/><rect x="1118.5" y="40.3" width="2" height="2"/><rect x="1125.1" y="37.0" width="2" height="2"/><rect x="1127.5" y="37.0" width="2" height="2"/><rect x="1126.6" y="39.8" width="2" height="2"/><rect x="1134.1" y="37.0" width="2" height="2"/><rect x="1135.6" y="39.8" width="2" height="2"/><rect x="1139.4" y="39.8" width="2" height="2"/><rect x="1142.2" y="39.8" width="2" height="2"/><rect x="1160.2" y="37.0" width="2" height="2"/><rect x="1163.1" y="37.0" width="2" height="2"/><rect x="1165.9" y="37.0" width="2" height="2"/><rect x="1168.3" y="37.0" width="2" height="2"/><rect x="1172.5" y="37.0" width="2" height="2"/><rect x="1160.2" y="39.8" width="2" height="2"/><rect x="1163.1" y="39.8" width="2" height="2"/><rect x="1165.9" y="39.8" width="2" height="2"/><rect x="1169.2" y="39.8" width="2" height="2"/><rect x="1172.5" y="39.8" width="2" height="2"/><rect x="1177.3" y="37.0" width="2" height="2"/><rect x="1178.2" y="39.8" width="2" height="2"/><rect x="1181.5" y="37.0" width="2" height="2"/><rect x="1187.2" y="37.0" width="2" height="2"/><rect x="1189.6" y="37.0" width="2" height="2"/><rect x="1192.0" y="37.0" width="2" height="2"/><rect x="1194.8" y="37.0" width="2" height="2"/><rect x="1187.2" y="39.8" width="2" height="2"/><rect x="1189.6" y="39.8" width="2" height="2"/><rect x="1192.0" y="39.8" width="2" height="2"/><rect x="1194.8" y="39.8" width="2" height="2"/><rect x="1199.1" y="37.0" width="2" height="2"/><rect x="1200.5" y="40.3" width="2" height="2"/><rect x="1216.6" y="40.3" width="2" height="2"/><rect x="1082.5" y="43.6" width="2" height="2"/><rect x="1086.7" y="42.2" width="2" height="2"/><rect x="1086.7" y="44.5" width="2" height="2"/><rect x="1088.6" y="44.5" width="2" height="2"/><rect x="1091.0" y="42.2" width="2" height="2"/><rect x="1091.0" y="44.5" width="2" height="2"/><rect x="1093.9" y="42.2" width="2" height="2"/><rect x="1093.9" y="44.5" width="2" height="2"/><rect x="1096.7" y="42.2" width="2" height="2"/><rect x="1096.7" y="44.5" width="2" height="2"/><rect x="1117.6" y="42.2" width="2" height="2"/><rect x="1117.6" y="44.5" width="2" height="2"/><rect x="1123.2" y="42.2" width="2" height="2"/><rect x="1123.2" y="44.5" width="2" height="2"/><rect x="1131.8" y="42.2" width="2" height="2"/><rect x="1131.8" y="44.5" width="2" height="2"/><rect x="1159.3" y="42.2" width="2" height="2"/><rect x="1159.3" y="44.5" width="2" height="2"/><rect x="1182.5" y="42.2" width="2" height="2"/><rect x="1182.5" y="44.5" width="2" height="2"/><rect x="1196.7" y="42.2" width="2" height="2"/><rect x="1196.7" y="44.5" width="2" height="2"/><rect x="1081.5" y="47.9" width="2" height="2"/><rect x="1084.4" y="47.9" width="2" height="2"/><rect x="1087.2" y="47.9" width="2" height="2"/><rect x="1094.3" y="47.9" width="2" height="2"/><rect x="1100.0" y="49.9" width="2" height="2"/><rect x="1119.9" y="49.9" width="2" height="2"/><rect x="1129.9" y="47.9" width="2" height="2"/><rect x="1158.3" y="49.9" width="2" height="2"/><rect x="1165.9" y="47.4" width="2" height="2"/><rect x="1169.2" y="47.9" width="2" height="2"/><path d="M1220.0 17.6H1234.2" stroke="#98aa22" stroke-width="2" stroke-dasharray="2 1.5" fill="none"/><path d="M1243.2 17.6H1298.7" stroke="#98aa22" stroke-width="2" stroke-dasharray="2 1.5" fill="none"/><path d="M1301.5 17.6H1307.2" stroke="#98aa22" stroke-width="2" stroke-dasharray="2 1.5" fill="none"/><path d="M1340.4 17.6H1375.0" stroke="#98aa22" stroke-width="2" stroke-dasharray="2 1.5" fill="none"/><rect x="1287.7" y="22.7" width="2" height="2"/><rect x="1287.7" y="24.6" width="2" height="2"/><rect x="1351.7" y="22.3" width="2" height="2"/><rect x="1351.7" y="24.6" width="2" height="2"/><rect x="1256.4" y="29.1" width="2" height="2"/><rect x="1360.7" y="27.0" width="2" height="2"/><rect x="1360.7" y="29.4" width="2" height="2"/><path d="M1232.3 40.8L1257.9 40.8" stroke="#98aa22" stroke-width="2" fill="none"/><path d="M1243.7 38.0L1251.3 38.0" stroke="#98aa22" stroke-width="2" fill="none"/><rect x="1253.1" y="37.0" width="2" height="2"/><rect x="1255.0" y="37.0" width="2" height="2"/><rect x="1259.8" y="37.0" width="2" height="2"/><rect x="1253.1" y="39.8" width="2" height="2"/><rect x="1259.8" y="39.8" width="2" height="2"/><rect x="1265.9" y="37.0" width="2" height="2"/><rect x="1268.3" y="37.0" width="2" height="2"/><rect x="1265.9" y="39.8" width="2" height="2"/><rect x="1268.3" y="39.8" width="2" height="2"/><rect x="1275.4" y="40.3" width="2" height="2"/><rect x="1286.8" y="37.0" width="2" height="2"/><rect x="1289.1" y="37.0" width="2" height="2"/><rect x="1286.8" y="39.8" width="2" height="2"/><rect x="1289.1" y="39.8" width="2" height="2"/><rect x="1302.9" y="37.0" width="2" height="2"/><rect x="1305.7" y="37.0" width="2" height="2"/><rect x="1302.9" y="39.8" width="2" height="2"/><rect x="1305.7" y="39.8" width="2" height="2"/><rect x="1340.3" y="40.3" width="2" height="2"/><rect x="1342.7" y="37.0" width="2" height="2"/><rect x="1345.5" y="39.3" width="2" height="2"/><rect x="1348.4" y="37.0" width="2" height="2"/><rect x="1353.6" y="37.0" width="2" height="2"/><rect x="1353.6" y="39.3" width="2" height="2"/><rect x="1362.6" y="37.0" width="2" height="2"/><rect x="1362.6" y="39.8" width="2" height="2"/><rect x="1368.3" y="40.3" width="2" height="2"/><rect x="1372.6" y="37.0" width="2" height="2"/><rect x="1372.6" y="39.8" width="2" height="2"/><rect x="1262.6" y="42.2" width="2" height="2"/><rect x="1262.6" y="44.5" width="2" height="2"/><rect x="1338.4" y="43.6" width="2" height="2"/><rect x="1232.3" y="47.9" width="2" height="2"/><rect x="1281.6" y="47.9" width="2" height="2"/><rect x="1283.5" y="47.9" width="2" height="2"/><rect x="1282.5" y="49.9" width="2" height="2"/><rect x="1291.0" y="49.9" width="2" height="2"/><rect x="1293.4" y="47.4" width="2" height="2"/><rect x="1295.8" y="49.9" width="2" height="2"/><rect x="1306.7" y="47.4" width="2" height="2"/><rect x="1308.1" y="47.9" width="2" height="2"/><rect x="1336.1" y="49.9" width="2" height="2"/><rect x="1341.7" y="49.9" width="2" height="2"/><rect x="1358.3" y="49.9" width="2" height="2"/><rect x="1361.7" y="49.9" width="2" height="2"/><path d="M1374.9 17.6H1423.2" stroke="#98aa22" stroke-width="2" stroke-dasharray="2 1.5" fill="none"/><rect x="1388.6" y="19.4" width="2" height="2"/><rect x="1374.8" y="22.3" width="2" height="2"/><rect x="1374.8" y="24.6" width="2" height="2"/><rect x="1396.6" y="27.0" width="2" height="2"/><rect x="1396.6" y="29.4" width="2" height="2"/><rect x="1409.0" y="27.0" width="2" height="2"/><rect x="1413.2" y="22.3" width="2" height="2"/><rect x="1413.2" y="24.6" width="2" height="2"/><rect x="1396.6" y="33.6" width="2" height="2"/><rect x="1373.9" y="37.0" width="2" height="2"/><rect x="1373.9" y="39.8" width="2" height="2"/><rect x="1375.8" y="40.3" width="2" height="2"/><rect x="1382.9" y="37.0" width="2" height="2"/><rect x="1382.9" y="39.8" width="2" height="2"/><rect x="1390.0" y="37.0" width="2" height="2"/><rect x="1391.4" y="37.0" width="2" height="2"/><rect x="1390.0" y="39.3" width="2" height="2"/><rect x="1395.7" y="39.3" width="2" height="2"/><rect x="1397.6" y="37.0" width="2" height="2"/><rect x="1397.6" y="40.3" width="2" height="2"/><rect x="1403.3" y="37.0" width="2" height="2"/><rect x="1403.3" y="39.8" width="2" height="2"/><rect x="1405.6" y="39.8" width="2" height="2"/><rect x="1410.4" y="37.0" width="2" height="2"/><rect x="1412.7" y="37.0" width="2" height="2"/><rect x="1414.6" y="37.0" width="2" height="2"/><rect x="1410.4" y="39.3" width="2" height="2"/><rect x="1414.6" y="39.3" width="2" height="2"/><rect x="1380.0" y="42.2" width="2" height="2"/><rect x="1380.0" y="44.5" width="2" height="2"/><rect x="1417.5" y="42.2" width="2" height="2"/><rect x="1420.3" y="42.2" width="2" height="2"/><rect x="1417.5" y="44.5" width="2" height="2"/><rect x="1420.3" y="44.5" width="2" height="2"/><rect x="1388.1" y="49.9" width="2" height="2"/><rect x="1399.0" y="49.9" width="2" height="2"/><circle cx="391.5" cy="180.1" r="5.5" fill="#a8a61e"/><circle cx="391.4" cy="17.1" r="5.2" fill="#aaa51c"/><circle cx="391.4" cy="38.0" r="5.2" fill="#7fa34e"/><circle cx="457.3" cy="18.1" r="5.2" fill="#a9a51c"/><circle cx="1055.0" cy="17.6" r="2.8" fill="#98aa22"/><circle cx="1054.5" cy="39.4" r="3.3" fill="#98aa22"/><circle cx="1139.9" cy="18.1" r="5.2" fill="#aaa51c"/><circle cx="1312.4" cy="18.5" r="4.3" fill="#9cab2a"/><circle cx="1318.6" cy="18.3" r="4.3" fill="#9cab2a"/><circle cx="1324.3" cy="17.6" r="4.0" fill="#9cab2a"/><circle cx="1335.2" cy="18.1" r="5.2" fill="#aaa51c"/><circle cx="1325.2" cy="38.0" r="4.9" fill="#88a840"/><circle cx="1428.4" cy="17.6" r="5.2" fill="#7fa24e"/><circle cx="1428.4" cy="38.0" r="4.7" fill="#7fa24e"/><circle cx="1428.4" cy="40.5" r="5.2" fill="#aaa51c"/><circle cx="1325.2" cy="180.1" r="4.9" fill="#a0a824"/><circle cx="1327.1" cy="202.6" r="4.3" fill="#a8a61e"/><circle cx="1329.7" cy="200.6" r="4.9" fill="#8faa3a"/><circle cx="1334.9" cy="202.6" r="5.3" fill="#a8a61e"/><circle cx="1377.9" cy="180.7" r="2.3" fill="#98aa22"/><circle cx="391.5" cy="351.9" r="5.3" fill="#7fa34e"/><circle cx="457.6" cy="446.4" r="5.1" fill="#a8a61e"/><circle cx="457.6" cy="454.3" r="5.3" fill="#7fa34e"/><circle cx="1139.4" cy="340.6" r="5.3" fill="#7fa34e"/><circle cx="1139.4" cy="344.4" r="5.1" fill="#a8a61e"/><circle cx="1321.0" cy="342.3" r="4.7" fill="#93aa36"/><circle cx="1327.3" cy="342.7" r="4.7" fill="#9ea928"/><circle cx="1334.8" cy="344.4" r="5.1" fill="#a8a61e"/><circle cx="1325.2" cy="351.6" r="4.7" fill="#8aa846"/><path d="M1311.0 446.4L1319.5 446.4" stroke="#a3a722" stroke-width="7.6" stroke-linecap="round" fill="none"/><path d="M1311.0 453.6L1319.5 453.6" stroke="#8aa846" stroke-width="8.1" stroke-linecap="round" fill="none"/><circle cx="1055.0" cy="863.4" r="2.5" fill="#98aa22"/><circle cx="1120.9" cy="651.8" r="15.8" fill="#e32c00"/><circle cx="1120.9" cy="661.8" r="15.7" fill="#043d40"/><circle cx="1121.0" cy="676.0" r="11.0" fill="#e39a00"/><rect x="1136.4" y="634.5" width="2" height="2"/><rect x="1100.0" y="693.5" width="2" height="2"/><circle cx="1327.3" cy="1111.0" r="4.7" fill="#85a746"/><circle cx="1335.4" cy="1110.5" r="5.1" fill="#85a746"/><circle cx="1334.8" cy="1119.5" r="5.1" fill="#85a746"/><circle cx="333.0" cy="39.5" r="2.6" fill="#98aa22"/><circle cx="787.8" cy="30.1" r="2.6" fill="#98aa22"/></g>
<g transform="translate(1547.50 164.30) scale(0.99 1.05)"><text class="lab" x="0" y="0" font-size="43.2" text-anchor="start">300</text></g><g transform="translate(1547.50 311.00) scale(0.99 1.05)"><text class="lab" x="0" y="0" font-size="43.2" text-anchor="start">200</text></g><g transform="translate(1547.50 457.70) scale(0.99 1.05)"><text class="lab" x="0" y="0" font-size="43.2" text-anchor="start"> 00</text><path transform="translate(0.00 0.00) scale(0.02109 -0.02109)" d="M497 0L678 0L678 1452L540 1452C520 1340 420 1235 173 1230L173 1087L497 1087Z"/></g><g transform="translate(1547.50 604.40) scale(0.99 1.05)"><text class="lab" x="0" y="0" font-size="43.2" text-anchor="start">0</text></g><g transform="translate(1548.50 751.10) scale(0.99 1.05)"><text class="lab" x="0" y="0" font-size="43.2" text-anchor="start">- 00</text><path transform="translate(14.38 0.00) scale(0.02109 -0.02109)" d="M497 0L678 0L678 1452L540 1452C520 1340 420 1235 173 1230L173 1087L497 1087Z"/></g><g transform="translate(1548.50 897.80) scale(0.99 1.05)"><text class="lab" x="0" y="0" font-size="43.2" text-anchor="start">-200</text></g><g transform="translate(1548.50 1044.50) scale(0.99 1.05)"><text class="lab" x="0" y="0" font-size="43.2" text-anchor="start">-300</text></g><g transform="translate(171.50 35.50) scale(0.985 1.045)"><text class="lab" x="0" y="0" font-size="49" text-anchor="end">0</text></g><g transform="translate(171.50 145.35) scale(0.985 1.045)"><text class="lab" x="0" y="0" font-size="49" text-anchor="end"> 00</text><path transform="translate(-81.75 0.00) scale(0.02393 -0.02393)" d="M497 0L678 0L678 1452L540 1452C520 1340 420 1235 173 1230L173 1087L497 1087Z"/></g><g transform="translate(171.50 255.20) scale(0.985 1.045)"><text class="lab" x="0" y="0" font-size="49" text-anchor="end">200</text></g><g transform="translate(171.50 365.05) scale(0.985 1.045)"><text class="lab" x="0" y="0" font-size="49" text-anchor="end">300</text></g><g transform="translate(171.50 474.90) scale(0.985 1.045)"><text class="lab" x="0" y="0" font-size="49" text-anchor="end">400</text></g><g transform="translate(171.50 584.75) scale(0.985 1.045)"><text class="lab" x="0" y="0" font-size="49" text-anchor="end">500</text></g><g transform="translate(171.50 694.60) scale(0.985 1.045)"><text class="lab" x="0" y="0" font-size="49" text-anchor="end">600</text></g><g transform="translate(171.50 804.45) scale(0.985 1.045)"><text class="lab" x="0" y="0" font-size="49" text-anchor="end">700</text></g><g transform="translate(171.50 914.30) scale(0.985 1.045)"><text class="lab" x="0" y="0" font-size="49" text-anchor="end">800</text></g><g transform="translate(171.50 1024.15) scale(0.985 1.045)"><text class="lab" x="0" y="0" font-size="49" text-anchor="end">900</text></g><g transform="translate(171.50 1134.00) scale(0.985 1.045)"><text class="lab" x="0" y="0" font-size="49" text-anchor="end"> 000</text><path transform="translate(-109.00 0.00) scale(0.02393 -0.02393)" d="M497 0L678 0L678 1452L540 1452C520 1340 420 1235 173 1230L173 1087L497 1087Z"/></g><g transform="translate(189.50 1225.30) scale(0.985 1.045)"><text class="lab" x="0" y="0" font-size="49" text-anchor="middle">0</text></g><g transform="translate(409.20 1225.30) scale(0.985 1.045)"><text class="lab" x="0" y="0" font-size="49" text-anchor="middle">200</text></g><g transform="translate(628.90 1225.30) scale(0.985 1.045)"><text class="lab" x="0" y="0" font-size="49" text-anchor="middle">400</text></g><g transform="translate(848.60 1225.30) scale(0.985 1.045)"><text class="lab" x="0" y="0" font-size="49" text-anchor="middle">600</text></g><g transform="translate(1068.30 1225.30) scale(0.985 1.045)"><text class="lab" x="0" y="0" font-size="49" text-anchor="middle">800</text></g><g transform="translate(1288.00 1225.30) scale(0.985 1.045)"><text class="lab" x="0" y="0" font-size="49" text-anchor="middle"> 000</text><path transform="translate(-54.50 0.00) scale(0.02393 -0.02393)" d="M497 0L678 0L678 1452L540 1452C520 1340 420 1235 173 1230L173 1087L497 1087Z"/></g><g transform="translate(801.00 1288.00) scale(1.0 1.044)"><text class="lab" x="0" y="0" font-size="53.6" text-anchor="middle">Number of columns/reactions</text></g><g transform="translate(813.40 1354.00) scale(1.0 1.044)"><text class="lab" x="0" y="0" font-size="53.6" text-anchor="middle">(490  nonzero elements)</text><path transform="translate(-190.64 0.00) scale(0.02617 -0.02617)" d="M497 0L678 0L678 1452L540 1452C520 1340 420 1235 173 1230L173 1087L497 1087Z"/></g><g transform="translate(39.00 596.00) rotate(-90) scale(1.0 1.044)"><text class="lab" x="0" y="0" font-size="53.6" text-anchor="middle">Number of rows/metabolites</text></g>

</svg>
</body></html>
